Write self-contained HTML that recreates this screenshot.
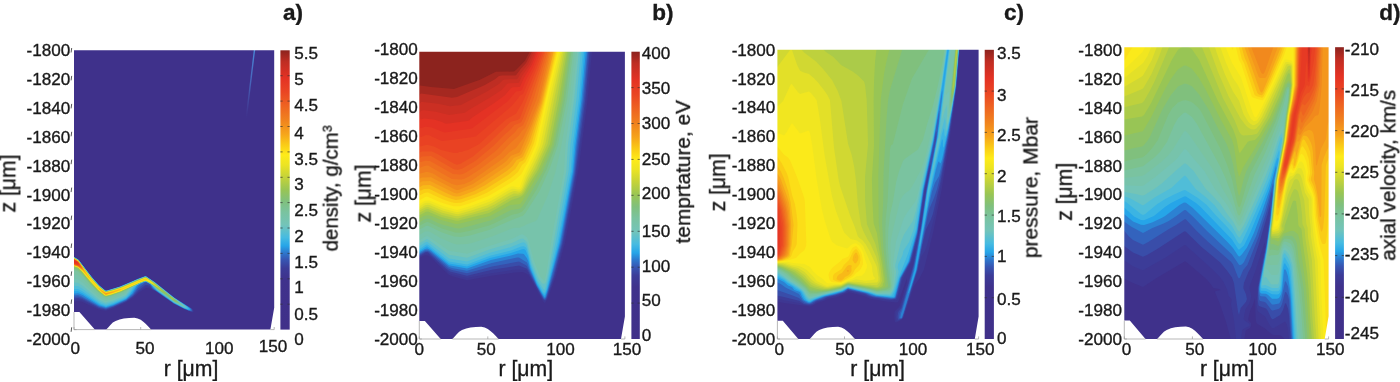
<!DOCTYPE html>
<html><head><meta charset="utf-8"><title>fig</title><style>html,body{margin:0;padding:0;background:#fff}svg{display:block}text{will-change:transform}</style></head><body>
<svg width="1400" height="382" viewBox="0 0 1400 382" font-family="Liberation Sans, sans-serif" fill="#1a1a1a" stroke="#1a1a1a" stroke-width="0.35">
<rect width="1400" height="382" fill="#fff" stroke="none"/>
<defs>
<linearGradient id="cbg" x1="0" y1="1" x2="0" y2="0"><stop offset="0.000" stop-color="#403089"/><stop offset="0.180" stop-color="#3f328c"/><stop offset="0.220" stop-color="#3c3c98"/><stop offset="0.250" stop-color="#3755b2"/><stop offset="0.275" stop-color="#2d78cd"/><stop offset="0.300" stop-color="#26a5e8"/><stop offset="0.330" stop-color="#46bbe1"/><stop offset="0.375" stop-color="#73c4b9"/><stop offset="0.420" stop-color="#7ac3a0"/><stop offset="0.460" stop-color="#80c07d"/><stop offset="0.500" stop-color="#98c555"/><stop offset="0.550" stop-color="#c8d437"/><stop offset="0.590" stop-color="#ece423"/><stop offset="0.625" stop-color="#feeb19"/><stop offset="0.660" stop-color="#facd16"/><stop offset="0.700" stop-color="#f6a51b"/><stop offset="0.750" stop-color="#f0821e"/><stop offset="0.800" stop-color="#ee6421"/><stop offset="0.850" stop-color="#ea4623"/><stop offset="0.900" stop-color="#e43224"/><stop offset="0.960" stop-color="#be2d23"/><stop offset="1.000" stop-color="#8c231e"/></linearGradient>
<clipPath id="cpa"><rect x="71" y="47" width="208" height="287"/></clipPath>
<clipPath id="cpb"><rect x="416" y="48" width="213" height="295"/></clipPath>
<clipPath id="cpc"><rect x="774" y="46" width="209" height="297"/></clipPath>
<clipPath id="cpd"><rect x="1121" y="44" width="212" height="299"/></clipPath></defs>
<g clip-path="url(#cpa)" stroke="none">
<rect x="72.0" y="48.3" width="204.2" height="283.3" fill="#3f318b"/>
<path fill="#3e3792" d="M72 256l2 0.6 4.6 2.9 13.4 17.5 7 7.9 6 5.1 1 0.3 1.6-0.3 10.1-3 21.3-8.9 6-2.2 1 0 8.4 5.6 19.6 15.6 18.2 11.4 1.3 1.5 0.3 2 -0.8 0.6 -1-0.3 -9.4-3.8 -8.6-4.5 -18-12.4 -3.9-1.6 -2.1-1.4 -4-0.7 -7 4.6 -6 5.4 -7 4.7 -13 5.9 -7 2.4 -7-1.2 -17-8 -4-0.8 -6 1.1z"/>
<path fill="#3c3c98" d="M72 256.5l0-0.4 2 0.7 4.5 2.7 12.5 16.5 8 9 6 5.1 1 0.4 2-0.5 10.1-3 20.9-8.8 5-1.9 2-0.2 8.2 5.4 19.8 15.8 17.1 10.7 1.9 2 0.1 2 -2.1-0.2 -6.8-2.8 -9.8-5 -18.4-12.7 -3.8-1.8 -2.2-2.1 -4-0.8 -7 4.7 -6 5.7 -7 4.9 -13 5.9 -7 2.4 -7-1.4 -17-8.4 -4-1 -6 0.9z"/>
<path fill="#394da9" d="M72 256.5l2 0.4 4.3 2.6 12.7 16.6 8 9.1 6 5 2 0.2 11.4-3.4 19.6-8.2 7-2.7 1 0.1 8.7 5.8 19.3 15.4 17 10.8 1.3 1.3 0.2 2 -1.5 0.1 -6.4-2.6 -10.6-5.4 -18-12.5 -3.6-2.1 -2.4-3.3 -3-0.8 -2 0.3 -6 4.6 -6 6.4 -7 5.1 -13 5.8 -7 2.4 -7-1.5 -17-9 -4-1.1 -6 0.8z"/>
<path fill="#3363bd" d="M72 256.5l2 0.5 4.2 2.5 13.8 17.9 7 7.9 6 5 2 0.2 13.2-4 17.8-7.6 7-2.7 1 0.1 8.5 5.7 19.5 15.6 17 10.9 0.8 1 0.1 1.5 -1.9 0 -5-2 -11-5.6 -20.8-14.4 -1.4-1.5 -1.8-3.3 -4-1.6 -1.1 0.4 -6.9 5.6 -5 6.6 -7 5.5 -13 5.8 -7 2.3 -7-1.7 -17-9.4 -4-1.3 -6 0.7z"/>
<path fill="#2c81d2" d="M72 256.5l2 0.6 4.1 2.4 13.9 18 7 7.9 6 5 2 0.2 12.1-3.6 18.9-8 7-2.6 1 0 8.4 5.6 19.6 15.7 15.2 9.8 1.7 1.5 0.3 1.5 -2.2-0.1 -4.8-1.9 -10.2-5.3 -19.5-13.7 -1.6-1.5 -2.7-4 -4.2-2.2 -1.4 0.2 -5.6 3.2 -6 8.8 -7 6 -12.3 5.5 -7.7 2.6 -7-1.8 -18-10.4 -3-1 -6 0.5z"/>
<path fill="#26a5e8" d="M72 257l0-0.5 2 0.7 4.5 2.8 13.5 17.6 7 7.9 6 5 1 0.4 1.9-0.4 12.9-4 17.2-7.4 7-2.6 1 0 8.2 5.5 19.8 15.8 14.1 9.2 1.7 1.5 0.3 1.5 -1.1 0.1 -5-1.9 -10-5.3 -17-11.9 -2.9-2.5 -3.1-4.1 -5-2.9 -1 0 -4.7 2 -3.2 2 -4.9 8 -6.2 5.8 -12.8 5.7 -7.2 2.3 -7-2 -16-10 -4-1.7 -1-0.3 -6 0.4z"/>
<path fill="#3bb4e3" d="M72 257l0-0.4 2 0.7 4.4 2.7 13.6 17.8 7 7.8 6 5 1 0.4 2-0.4 13-4 17-7.4 7-2.6 1 0 8 5.4 20 15.9 13 8.6 1.6 1.5 0.4 1 -1 0.5 -4-1.5 -10-5.3 -17-12.1 -6.9-7.1 -4.1-2.1 -1.3 0.1 -3.8 1.5 -4.5 2.5 -7.2 10 -3.2 3 -3 1.5 -10 4.2 -7 2.2 -6.2-1.9 -17.8-11.6 -4-1.7 -6 0.1z"/>
<path fill="#50bdd8" d="M72 257l0-0.3 2 0.6 4.3 2.7 13.7 17.9 7 7.9 6 5 2 0.1 13-3.9 18-7.7 7-2.6 1 0 8 5.4 20 15.9 12 8.1 1.5 1.4 0.2 1 -0.7 0.3 -3-1.1 -10-5.3 -17-12.1 -6-6.3 -5-2.7 -1.7 0.2 -3.7 1.5 -5.5 3 -1.6 1.5 -2.7 4.5 -3.3 4 -1.5 1.5 -3 1.6 -10 4.1 -7 2.2 -6-2 -18-12.5 -4-2 -6 0z"/>
<path fill="#64c1c6" d="M72 257l2 0.4 4.2 2.6 13.8 18 7 7.9 6 5 2 0.1 13-3.9 18-7.7 7-2.6 1 0 8 5.4 20 16 12 8.3 0.5 1 -0.5 0.6 -2-0.6 -10-5.4 -17-12.3 -2.9-3.3 -3.1-2.6 -5-2.7 -2 0.3 -3.8 1.5 -7 4 -6.9 9 -3.3 1.9 -10 4 -7 2.2 -4.5-1.6 -2.9-1.5 -15.6-12 -4-2.4 -1-0.5 -6-0.3z"/>
<path fill="#74c4b6" d="M72 257l2 0.5 4.1 2.5 13.8 18 7.1 8 6 5 2 0.1 13-3.9 18-7.7 7-2.6 1 0 8 5.4 14.4 11.7 15.7 11.5 0.9 1.5 -2-0.4 -8.8-4.6 -17.1-12.5 -6.1-5.7 -5-2.7 -1 0 -5 1.9 -8.1 4.5 -1.7 1.5 -3.8 5.5 -1.4 1 -12 5 -7 2.1 -1-0.1 -6-3.1 -16-13.3 -4-2.7 -1-0.6 -6-0.6z"/>
<path fill="#77c3ab" d="M72 257l2 0.6 4 2.4 13.8 18 7.2 8.1 6 5 2 0.1 13-3.9 18-7.7 7-2.6 1 0 8 5.4 13.6 11.1 13.5 10 1.8 1.5 0.1 1 -8.4-4 -16.9-12.5 -6.7-5.8 -5-2.7 -1 0 -5 1.9 -9.6 5.1 -1.6 1.5 -2.8 4 -3 1.5 -10 3.9 -7 2.1 -1-0.2 -6-3.4 -8-6.8 -8-7.6 -4-3 -1-0.7 -6-1z"/>
<path fill="#7ac3a0" d="M72 257.5l0-0.5 2 0.7 4 2.4 13.7 17.9 7.3 8.2 6 5 2 0.1 14-4.2 17-7.4 7-2.6 1 0 8 5.4 27.5 22 -0.5 0.3 -1-0.3 -5.1-2.5 -17.5-13 -4.4-4 -7-4 -1.2 0 -4.8 1.8 -10 5.1 -2.1 1.6 -1.9 2.3 -3 1.5 -10 3.8 -7 2 -1-0.2 -6.1-3.9 -7.9-7.3 -8-8.4 -4-3.4 -1-0.7 -6-1.4z"/>
<path fill="#7dc28e" d="M72 257.5l0-0.4 2 0.7 4 2.4 13.6 17.8 7.4 8.3 6 5 2 0.1 14-4.2 17-7.4 7-2.6 1 0 8 5.4 25.4 20.4 -0.4 0.4 -4-1.6 -17.3-12.8 -4.6-4 -7.1-4.1 -1.5 0.1 -5.1 2 -9.4 4.7 -4 2.7 -4 1.9 -9 3.3 -7 1.9 -1-0.2 -6.7-4.8 -8-8 -7.3-8.4 -5-4.7 -6-1.9z"/>
<path fill="#80c07d" d="M72 257.5l0-0.3 2 0.7 4 2.4 13.5 17.7 7.5 8.4 6 5 2 0.1 13-3.9 18-7.7 7-2.6 1 0 8 5.5 13.5 11.2 9.4 7 1.2 1.5 -2.1-0.4 -3-1.8 -5.7-4.8 -9.3-6.5 -4.7-4 -7.3-4.2 -1.7 0.2 -4.3 1.6 -18 9.1 -10 3.5 -6 1.7 -1-0.3 -7.3-5.6 -6.9-7 -7.8-9.2 -5-4.7 -6-1.9z"/>
<path fill="#8cc269" d="M72 257.5l2 0.5 4 2.4 13.8 18.1 7.2 8 6 5 2 0.1 13-3.9 18-7.7 7-2.6 1 0 8 5.5 22.9 18.6 -0.9 0.3 -3-1.7 -5.3-4.6 -9.7-6.7 -4.6-3.8 -7.4-4.2 -1.9 0.2 -4.1 1.6 -19 9.1 -10 3.4 -5 1.3 -1-0.2 -6.8-5.2 -7.7-8 -7.5-9 -5-4.9 -6-2z"/>
<path fill="#98c555" d="M72 257.5l2 0.5 4 2.4 13.7 18.1 7.1 8 6.2 5.1 1 0.3 6-1.4 10-3.3 23-9.7 2 0.6 7 4.9 12.7 11 -0.7 0.1 -4-2.6 -11-8.3 -5-2.5 -1 0 -5 1.8 -20 9.3 -9 3.1 -5 1.2 -1-0.2 -6.4-4.9 -8.1-8.5 -8.5-10.3 -4-3.8 -4-1.8 -2-0.4zM166.8 294.5l0.2-0.3zM168.6 295.5l3.4 1.9 3.5 3.6 -4.5-2.5z"/>
<path fill="#abcb49" d="M72 257.5l2 0.6 4 2.4 13.6 18 7.1 8 6.3 5.2 1 0.3 6-1.4 10-3.3 23-9.7 2 0.6 7 5 9.5 8.3 -1.5-0.3 -4-2.7 -2.8-2.5 -4.4-3 -4.8-2.4 -1 0 -5 1.8 -20 9.3 -9 3 -4 1.1 -2-0.1 -6.6-5.2 -8-8.5 -7.4-9.2 -5-4.9 -6-2.2zM163.8 292l0.2 0.4zM169.9 296.5l2.1 1.1 1.9 1.9 -0.9 0.2 -2-1.5zM173.9 300l0.1-0.3z"/>
<path fill="#bed13d" d="M72 258l0-0.5 2 0.7 4 2.4 13.5 17.9 7.1 8 6.4 5.3 1 0.3 6-1.4 10-3.3 23-9.7 2 0.6 7 5 7 6.1 0.1 0.6 -10.2-7 -4.9-2.4 -1-0.1 -5 1.8 -20 9.2 -9 3 -5 1.3 -1-0.3 -6.3-5 -8-8.5 -7.7-9.5 -5-4.9 -6-2.2zM171.3 298l0.7-0.1 0.3 0.6z"/>
<path fill="#d1d832" d="M72 258l0-0.4 2 0.7 4 2.4 12.5 16.8 5.2 6 3.8 4 5 4 1.5 0.7 7-1.7 9-3 23-9.7 1 0 4 2.7 7.9 6.5 -0.9 0.1 -7.7-5.1 -3.3-1.5 -1 0 -5 1.7 -20 9.1 -9 3.1 -5 1.2 -1-0.2 -6.5-5.4 -8-8.5 -9.5-11.4 -3-2.7 -6-2.1zM157.8 287.5l0.2-0.4 0 0.8z"/>
<path fill="#e3e028" d="M72 258l2 0.4 4 2.4 12.8 17.2 4.8 5.5 3.8 4 4.9 4 1.7 0.9 7-1.8 9-3 23-9.7 2 0.7 7.6 5.9 -0.6 0.2 -4.5-2.7 -3.5-1.6 -1 0 -5 1.7 -20 9.1 -9 3 -4 1.1 -2-0.1 -6.3-5.2 -7.9-8.5 -9.8-11.6 -3-2.7 -6-2.1zM154.8 285l0.4 0z"/>
<path fill="#f1e620" d="M72 258l2 0.5 4 2.4 12.7 17.1 3.8 4.5 5.3 5.5 5 4 1.2 0.5 7-1.7 9-3 23-9.8 2 0.7 6.2 4.8 -0.2 0.4 -6-3.2 -2-0.4 -5 1.7 -20 9.1 -9 3 -4 1.1 -2-0.1 -6.1-5.1 -7.9-8.5 -10-11.8 -3-2.7 -6-2z"/>
<path fill="#fbea1a" d="M72 258l2 0.6 4 2.4 12.5 17 3.9 4.5 5.2 5.5 5 4 1.4 0.6 7-1.7 9-3 23-9.7 2 0.7 4 3.3 -5-2 -2 0.2 -24 10.5 -9 3.1 -4 1 -2-0.1 -6-5 -8-8.6 -9.9-11.8 -3.1-2.6 -6-2z"/>
<path fill="#fcde18" d="M72 258l2 0.6 4 2.5 12.4 16.9 4.2 5 4.8 5 5 4 1.6 0.7 7-1.7 10-3.3 22-9.3 1 0 3.3 2.6 -3.3-0.9 -2 0.1 -10 4 -14 6.5 -9 3.1 -5.3 1.2 -6.7-5.3 -17.7-20.2 -3.3-2.7 -6-2z"/>
<path fill="#facd16" d="M72 258.5l0-0.5 2 0.7 4 2.5 12.5 17.3 3.8 4.5 4.2 4.5 5 4 2.5 1.3 7-1.6 9-2.8 23-9.8 1 0 1.5 1.4 -2.5-0.2 -6 2 -19 8.7 -14 4.4 -1-0.3 -6-5.2 -17.5-19.9 -3.5-2.9 -6-2z"/>
<path fill="#f8b918" d="M72 258.5l0-0.4 2 0.7 4 2.4 11.4 16.3 -0.4 0.4 -5.6-6.9 -5.4-4.5 -6-2zM89.4 278l0.6-0.2 0.2 1.2zM90.7 279.5l0.3-0.3 0 1zM91.6 280.5l0.5 0 -0.1 0.8zM97.9 287.5l0.1 0.3zM98.7 288.5l0.3-0.4 5.6 4.4 1.4 0.5 15-3.9 0.1 0.4 -7.3 3 -7.8 2.2 -1-0.3 -3-2.5zM121.6 289l0.4 0z"/>
<path fill="#f6a51b" d="M72 258.5l2 0.4 4 2.4 4 5.3 3.5 5.9 -0.5 0.1 -2.3-2.6 -4.7-3.6 -6-2zM85.6 273l0.4-0.4 0 1.2zM86.9 274l0.1 1zM88 275.5l0 0.6zM100.9 290l0.1 0.5zM101.7 291l0.3-0.2 4 2.4 6-1.3 1.9 0.1 -7.9 2.5 -1-0.4zM113.9 291.5l0.6 0 -0.5 0.3z"/>
<path fill="#f4971c" d="M72 258.5l2 0.5 4 2.4 5 7.1 0.3 1 -0.3 0.5 -5-3.8 -6-1.9zM83.8 270.5l0.2-0.5 0 0.9zM104.9 293.5l3.3 0 -2.2 0.7z"/>
<path fill="#f1891d" d="M72 258.5l2 0.6 4 2.4 4 5.5 0.5 1.5 -0.5 0.5 -4-2.9 -6-1.9z"/>
<path fill="#f07c1f" d="M72 258.5l2 0.7 4 2.4 4 5.8 0 1.1 -4-2.5 -6-2z"/>
<path fill="#ef7020" d="M72 259l0-0.4 2 0.7 4 2.5 3 4.2 0.4 1.5 -0.4 0.2 -3-1.9 -3-1.2 -3-0.7z"/>
<path fill="#ee6421" d="M72 259l0-0.3 2 0.7 4 2.5 2 2.7 1 2.4 -7-3 -2-0.3z"/>
<path fill="#ec5822" d="M72 259l2 0.5 4 2.5 2 2.9 0 1.5 -6-2.6 -2-0.3z"/>
<path fill="#eb4c23" d="M72 259l2 0.6 4 2.6 1.6 3.3 -7.6-2.3z"/>
<path fill="#e94223" d="M72 259.5l0-0.5 1.4 0.5 3.6 2.1 2 2.4 0.1 1 -7.1-2z"/>
<path fill="#e63a24" d="M72 259.5l2 0.4 3 1.9 1 0.9 0.4 1.3 -0.4 0.4 -6-1.8z"/>
<path fill="#e43224" d="M72 259.5l4 1.9 2 2.1 -6-1.3z"/>
<path fill="#d73024" d="M72 260l0.9 0 2 1.5 -2.9 0.2z"/><defs><linearGradient id="alg" gradientUnits="userSpaceOnUse" x1="0" y1="50" x2="0" y2="118"><stop offset="0" stop-color="#4a8ad8" stop-opacity="1"/><stop offset="0.5" stop-color="#4a78cc" stop-opacity="0.7"/><stop offset="1" stop-color="#4a60b8" stop-opacity="0"/></linearGradient></defs><path d="M254.6 49L246.3 118" stroke="url(#alg)" stroke-width="1.4" fill="none"/>
</g>
<path d="M70 46H279V334H70ZM74.0 50.3 L274.2 50.3 L274.2 307.8 L270.4 329.6 L151.1 329.6 L148.5 326.8 L145.9 324.0 L143.3 321.8 L140.7 319.8 L137.7 318.4 L134.4 317.8 L129.1 317.9 L123.8 318.4 L119.6 319.4 L115.6 320.9 L112.8 322.6 L110.4 325.0 L108.2 327.4 L106.2 329.6 L94.8 329.6 L79.4 312.0 L74.0 312.0Z" fill="#fff" fill-rule="evenodd" stroke="none"/>
<path d="M74.0 312.0V329.6H94.8M106.2 329.6H151.1M270.4 329.6H274.2M74.0 329.6v-2.6M140.7 329.6v-2.6M274.2 329.6v-2.6M74.0 329.6h2.6" fill="none" stroke="#9a9a9a" stroke-width="0.7"/>
<rect x="280.4" y="50.3" width="9.3" height="279.3" fill="url(#cbg)" stroke="none"/>
<path d="M280.4 304.2h2.2M289.7 304.2h-2.2" stroke="#333" stroke-width="0.7" fill="none"/>
<path d="M280.4 278.8h2.2M289.7 278.8h-2.2" stroke="#333" stroke-width="0.7" fill="none"/>
<path d="M280.4 253.4h2.2M289.7 253.4h-2.2" stroke="#333" stroke-width="0.7" fill="none"/>
<path d="M280.4 228.0h2.2M289.7 228.0h-2.2" stroke="#333" stroke-width="0.7" fill="none"/>
<path d="M280.4 202.6h2.2M289.7 202.6h-2.2" stroke="#333" stroke-width="0.7" fill="none"/>
<path d="M280.4 177.3h2.2M289.7 177.3h-2.2" stroke="#333" stroke-width="0.7" fill="none"/>
<path d="M280.4 151.9h2.2M289.7 151.9h-2.2" stroke="#333" stroke-width="0.7" fill="none"/>
<path d="M280.4 126.5h2.2M289.7 126.5h-2.2" stroke="#333" stroke-width="0.7" fill="none"/>
<path d="M280.4 101.1h2.2M289.7 101.1h-2.2" stroke="#333" stroke-width="0.7" fill="none"/>
<path d="M280.4 75.7h2.2M289.7 75.7h-2.2" stroke="#333" stroke-width="0.7" fill="none"/>
<text x="70.3" y="56.2" font-size="17.1" text-anchor="end" >-1800</text>
<text x="70.3" y="85.1" font-size="17.1" text-anchor="end" >-1820</text>
<text x="70.3" y="113.9" font-size="17.1" text-anchor="end" >-1840</text>
<text x="70.3" y="142.8" font-size="17.1" text-anchor="end" >-1860</text>
<text x="70.3" y="171.7" font-size="17.1" text-anchor="end" >-1880</text>
<text x="70.3" y="200.5" font-size="17.1" text-anchor="end" >-1900</text>
<text x="70.3" y="229.4" font-size="17.1" text-anchor="end" >-1920</text>
<text x="70.3" y="258.3" font-size="17.1" text-anchor="end" >-1940</text>
<text x="70.3" y="287.2" font-size="17.1" text-anchor="end" >-1960</text>
<text x="70.3" y="316.0" font-size="17.1" text-anchor="end" >-1980</text>
<text x="70.3" y="344.9" font-size="17.1" text-anchor="end" >-2000</text>
<path d="M71.1 52.5l0.6 -4.5" stroke="#444" stroke-width="0.9" fill="none"/>
<path d="M71.1 80.4l0.6 -4.5" stroke="#444" stroke-width="0.9" fill="none"/>
<path d="M71.1 108.4l0.6 -4.5" stroke="#444" stroke-width="0.9" fill="none"/>
<path d="M71.1 136.3l0.6 -4.5" stroke="#444" stroke-width="0.9" fill="none"/>
<path d="M71.1 164.2l0.6 -4.5" stroke="#444" stroke-width="0.9" fill="none"/>
<path d="M71.1 192.1l0.6 -4.5" stroke="#444" stroke-width="0.9" fill="none"/>
<path d="M71.1 220.1l0.6 -4.5" stroke="#444" stroke-width="0.9" fill="none"/>
<path d="M71.1 248.0l0.6 -4.5" stroke="#444" stroke-width="0.9" fill="none"/>
<path d="M71.1 275.9l0.6 -4.5" stroke="#444" stroke-width="0.9" fill="none"/>
<path d="M71.1 303.9l0.6 -4.5" stroke="#444" stroke-width="0.9" fill="none"/>
<path d="M71.1 331.8l0.6 -4.5" stroke="#444" stroke-width="0.9" fill="none"/>
<text x="75.3" y="353.8" font-size="17.1" text-anchor="middle" >0</text>
<text x="144.9" y="354.1" font-size="17.1" text-anchor="middle" >50</text>
<text x="219.3" y="354.1" font-size="17.1" text-anchor="middle" >100</text>
<text x="272.9" y="352.0" font-size="17.1" text-anchor="middle" >150</text>
<text x="294.3" y="344.7" font-size="17.1" text-anchor="start" >0</text>
<text x="294.3" y="319.7" font-size="17.1" text-anchor="start" >0.5</text>
<text x="294.3" y="292.7" font-size="17.1" text-anchor="start" >1</text>
<text x="294.3" y="268.2" font-size="17.1" text-anchor="start" >1.5</text>
<text x="294.3" y="241.7" font-size="17.1" text-anchor="start" >2</text>
<text x="294.3" y="216.2" font-size="17.1" text-anchor="start" >2.5</text>
<text x="294.3" y="189.7" font-size="17.1" text-anchor="start" >3</text>
<text x="294.3" y="164.7" font-size="17.1" text-anchor="start" >3.5</text>
<text x="294.3" y="138.7" font-size="17.1" text-anchor="start" >4</text>
<text x="294.3" y="111.2" font-size="17.1" text-anchor="start" >4.5</text>
<text x="294.3" y="85.2" font-size="17.1" text-anchor="start" >5</text>
<text x="294.3" y="58.7" font-size="17.1" text-anchor="start" >5.5</text>
<g clip-path="url(#cpb)" stroke="none">
<rect x="417.3" y="49.7" width="209.6" height="291.3" fill="#3f318b"/>
<path fill="#3e3792" d="M417 49l175.8 0 -0.9 3 -4.3 48 -9 69 -8.2 45 -5.5 29 -8.6 32 -8.7 24 -2.6 4.1 -1-0.5 -1.8-2.6 -13.2-24.2 -2-1.9 -3-1.5 -2-0.4 -7 0.6 -22 2.9 -26 4.7 -14-3.8 -4-1.5 -19-18.1 -2-1.3 -2-0.3 -2 0.4 -4.5 2.4 -2.5 2.1z"/>
<path fill="#3c3c98" d="M417 49l173.1 0 0.5 1 -4.2 50 -9.1 70 -2.8 16 -10.9 58 -8.6 32 -7.7 22 -1.3 2.4 -1 0.6 -1-0.2 -1.6-1.8 -12.4-23.3 -3-4.7 -1-0.8 -8-0.8 -6 0.7 -22 3.3 -23 4.7 -15.9-4.1 -2.1-1 -21-19.3 -2-0.3 -6 3.1 -3 0.3z"/>
<path fill="#394da9" d="M417 49l172.1 0 0.4 3 -4.3 48 -9.8 75 -12.9 69 -8.5 32 -7.3 22 -0.7 1.4 -1 0.7 -1-0.3 -1.4-1.8 -15.6-29.3 -8-3.2 -26 4 -26 6.2 -17-4.3 -4-2.8 -18-16.3 -2-0.2 -6 3.3 -3 0.5z"/>
<path fill="#3363bd" d="M417 49l171.4 0 -4.5 51 -6 45 -3.1 28 -13 70 -8.5 32 -6.8 22 -1.5 2.2 -1-0.3 -1-1.4 -6-10.6 -10-20.6 -1.4-1.3 -6.6-3.5 -27 4.9 -25 6.8 -15-3.1 -4-1.8 -18-15.8 -2-1.3 -3 0.2 -6 3.6 -2 0.3z"/>
<path fill="#2c81d2" d="M417 49l170.6 0 -4.9 51 -6 45 -2.7 27 -13.2 71 -11.6 43 -3.2 10.8 -1 1.5 -1-0.4 -1-1.5 -6-10.5 -7.6-16.9 -2.4-6.6 -8-4.9 -2 0.1 -25.2 5.4 -24.8 7.8 -14-2.6 -4-1.2 -19-15.8 -2-1 -3 0.1 -6 3.7 -2 0.6z"/>
<path fill="#26a5e8" d="M417 49l169.1 0 -4.6 51 -6 45 -2.5 26.7 -13.2 71.3 -12.6 48 -2.2 6.1 -1-0.5 -2-3 -5-8.9 -6.7-15.7 -2.1-8 -1.2-2.7 -3-4 -1-0.6 -5-0.2 -7 2 -20 4.5 -24 8.5 -18-3.2 -18-14.7 -3-1.8 -1-0.3 -2 0.5 -6 3.6 -2 0.6z"/>
<path fill="#3bb4e3" d="M417 49l167.6 0 -4.4 51 -5.9 44 -2.3 27.4 -13.1 70.6 -11.9 47.3 -2 5.4 -1 0 -2-2.4 -5-9.1 -6.2-15.2 -2.8-12 -2.5-6 -1.5-0.9 -2 0.1 -11 3.8 -21 5.1 -23 8.5 -18-3.1 -19-15.3 -3-1.9 -2 0.9 -5.7 3.8 -2.3 0.5z"/>
<path fill="#50bdd8" d="M417 49l166 0 -4.2 50 -6.1 46 -2 26 -13.1 71 -11.5 48 -1.1 2.4 -1 0.3 -1-0.8 -6-10.6 -6.3-16.3 -1.9-9 -2-7 -0.8-1.4 -2-1.4 -3 0.4 -10 4 -21 5.2 -23 8.7 -18-3 -20-16.1 -2-1.1 -2 0.9 -5 3.5 -3 0.7z"/>
<path fill="#64c1c6" d="M417 49l164.1 0 -4.7 50 -6 46 -1.8 26 -13.1 71 -8.4 40 -2.1 7.4 -1 0.4 -1-1.2 -5-7.7 -6.6-16.9 -4.1-17 -1.3-3.1 -2-1.6 -2 0.1 -11 4.7 -21 5.6 -23 8.8 -18-3.1 -20-15.5 -2-1.1 -2 0.8 -6 3.9 -2 0.6z"/>
<path fill="#74c4b6" d="M417 49l162.1 0 -5 50 -6.2 46 -1.6 26 -17.2 96 -2.8 14 -1.3 2.4 -2 0.3 -1-0.5 -3.6-5.2 -6.4-16.6 -4.6-18.4 -1.4-2 -3-2.5 -2 0.3 -9.2 4.2 -21.8 6.3 -23 8.5 -18-3 -20-14.8 -2-0.9 -7 3.8 -3 0.2z"/>
<path fill="#77c3ab" d="M417 49l160.4 0 -5.4 50.4 -6.4 44.6 -1.5 27 -12.6 69 -4.5 29.3 -2 10.2 -1 1.5 -4-4.8 -5-12.7 -2-5.7 -4.4-16.8 -2-4 -3.6-2.5 -2 0.1 -9.4 4.4 -21.6 6.8 -23 7.9 -18-3 -20-13.8 -2-0.8 -2 0.7 -6.7 4.2 -1.3 0.3z"/>
<path fill="#7ac3a0" d="M417 49l158.2 0 -6 52 -7.9 45 -4.9 22 -1.2 5 -7.2 22 -10.6 24 -1.6 2 -8.8 3.3 -3 1.8 -2 0.3 -2 1.4 -6-0.1 -22 8.8 -20 6.4 -5 1.1 -10 0.5 -4-0.9 -13-5.9 -9.7-5.7 -2.3-0.7 -3 0.3 -5.7 3.4 -2.3 0.2z"/>
<path fill="#7dc28e" d="M417 49l155.8 0 0.3 3 -6.1 48 -9.3 46 -8.2 23 -9.9 22 -14.1 22 -2.5 2.7 -10 3.8 -24 10.5 -19 5.6 -9 1.5 -7-0.5 -12-4 -14-6.8 -2 0.1 -6 3.4 -1-0.3 -1-2.4 -1-0.8z"/>
<path fill="#80c07d" d="M417 49l154.8 0 -6.8 51 -9.1 45 -9.1 24 -9.9 20 -11.8 19 -3.1 3.8 -4 1.7 -6 1.3 -17 8.3 -6 2.3 -20 5.7 -9 1.7 -5-0.3 -13-4 -14-6.4 -2 0.1 -6 3.3 -3-0.7z"/>
<path fill="#8cc269" d="M417 49l154 0 -1 3 -7 48 -9.1 45 -11.2 27 -18 31 -3.7 4.9 -3 1.1 -7 1 -20 10.2 -23 6.4 -9 1.8 -4-0.3 -12-3.4 -5-1.8 -8-3.8 -2-0.5 -2 0.1 -2 0.8 -3 1.9 -2 2.1 -2 0.7z"/>
<path fill="#98c555" d="M417 49l152.8 0 -1.2 2 -7.6 49 -9.1 45 -11.6 26 -18.3 30.5 -2 2.4 -10 1.2 -20 11 -31 7.7 -3 0.1 -15-3.8 -10-4.3 -3-0.6 -4 0.6 -4 2.5 -1.3 1.7 -0.7 2.3 -1 0.9z"/>
<path fill="#abcb49" d="M417 49l148.8 0 1 1 0.1 2 -7.9 47.2 -9 44.8 -11.7 26 -8.3 13.3 -6 10.6 -2 2.1 -3 1.5 -7.4 2.5 -22.6 12.9 -31 7.8 -3-0.2 -14-3.4 -13-5.6 -2 0.2 -5 2.9 -2 0.4 -2-4z"/>
<path fill="#bed13d" d="M417 49l147.4 0 0.9 2 -0.2 2 -8.5 47 -9 44 -11.1 25 -6.5 10.7 -5.9 11.3 -2.1 2.9 -3 1.6 -4 0.4 -4 1.6 -16 9.4 -7 3.6 -30 8 -3-0.2 -13.2-3.3 -13.8-5.9 -2 0.2 -6 3.3 -1.4-1.6 -1.6-0.7z"/>
<path fill="#d1d832" d="M417 49l146.7 0 0 3 -18.2 91 -2.1 6 -8.7 19 -6.3 11 -4.7 10 -2.7 3.7 -3 1 -4-0.1 -3 1.1 -17 10 -7 3.4 -14 4.3 -15 3.9 -3-0.2 -13-3.4 -14-5.8 -3 0.6 -5 2.8 -3-0.6z"/>
<path fill="#e3e028" d="M417 49l146.2 0 -1.3 4 -7.3 34 -11.4 56 -1.3 4 -4.8 11 -4.3 9 -5.9 11 -4.1 10 -1.8 2.7 -2 1 -4-0.6 -2 0.1 -4 1.8 -16 9.6 -6 2.8 -15 4.9 -14 3.9 -2-0.1 -13-3.4 -13-5.5 -2-0.4 -3 0.4 -5.8 3.8 -2.2 0.3z"/>
<path fill="#f1e620" d="M417 49l145.5 0 -1.6 2 -0.6 2 -8.5 37 -11.5 55 -5 12 -9.9 20 -3.6 10 -1.8 2.3 -2 0.3 -4-0.9 -2 0.1 -4 2 -16 9.6 -4 1.8 -16 5.7 -14 4.1 -2 0 -13-3.6 -14-5.7 -3 0.1 -2 0.6 -4 2.6 -1.3 2 -1.7 0.7z"/>
<path fill="#fbea1a" d="M417 49l144 0 -1 0.6 -0.8 1.4 -9.2 37.7 -12 56.3 -4.6 11 -9.7 20 -3.8 11 -1.9 0.4 -5-1.2 -2 0.2 -21 12.3 -19.5 7.3 -12.5 3.7 -2 0 -13-3.7 -14-5.5 -4 0.2 -4 2.2 -2 1.4 -2 3.7z"/>
<path fill="#fcde18" d="M417 49l139.8 0 0.9 1 -0.1 2 -9.6 38.6 -12.3 54.4 -7.7 17.3 -3 4.7 -3 6.1 -1.5 1.9 -6.8 6 -24.7 14.8 -19 7.4 -10 3.1 -6 0 -4.8-1.3 -8.2-2.6 -14-6 -1.9 0.6 -5.1 2.9 -1-0.4 -0.8-2.5 -1.2-7.9z"/>
<path fill="#facd16" d="M417 49l138.6 0 0.9 2 -12.3 52 -10.2 40 -4.6 11 -4 8 -3.4 2.9 -4 7 -7.1 6.1 -23.9 14.7 -10 4.4 -16 5.6 -6 0.4 -4.5-1.1 -8.5-3 -14-6.5 -3 0.2 -5 2.5 -1-2.1 -0.7-4.1 -1.3-0.6z"/>
<path fill="#f8b918" d="M417 49l137.9 0 0.3 3 -12.2 51.3 -11.4 39.7 -7.2 16 -1.4 1.4 -3.3 1.6 -4.5 7 -7.1 6 -23.1 14.5 -9 4.4 -15 5.4 -5 0.6 -4.2-0.9 -8-3 -14.8-7.3 -5 0.3 -3 1.5 -1 0 -0.6-1.5 -1.1-1 -1.3-0.2z"/>
<path fill="#f6a51b" d="M417 49l137.4 0 -12.4 53.9 -12.5 39.1 -6.5 14.5 -1 1.1 -5.3 2.4 -4.1 6 -5.6 4.8 -22 14.4 -10.8 5.8 -14.2 5.2 -4 0.4 -3-0.7 -8-3.3 -15-7.6 -7 0.2 -3 1.8 -3 0.4z"/>
<path fill="#f4971c" d="M417 49l136.9 0 -12.8 53 -13.7 39 -5.8 13 -1.6 1.4 -6 2.3 -5 6.2 -4 3.4 -23 15.4 -9 5.2 -14 5.2 -2 0.3 -3-0.6 -24-11.8 -7 0.3 -2 0.5 -1 1 -1 3.2 -2 1z"/>
<path fill="#f1891d" d="M417 49l136.2 0 -1.5 3 -11.7 49.8 -8.9 24.2 -11.1 25.8 -1.7 1.2 -7.3 2.7 -4.6 5.3 -3.8 3 -29.6 20 -14 5.7 -2 0.4 -2-0.5 -24-12.4 -9 0.4 -2 0.6 -1 1.9 -1 5.6 -1 0.6z"/>
<path fill="#f07c1f" d="M417 49l133.8 0 -11.8 51.2 -9 23.2 -7 15.2 -7 9.4 -7 4.5 -6 6 -31.9 22.5 -6.8 3 -7.3 1.3 -5-1.3 -11.7-6 -7.3-4.4 -5-1.5 -2-0.1 -6 1.6 -3 0.3z"/>
<path fill="#ef7020" d="M417 49l130.8 0 1.2 1.9 -12.3 48.1 -11.7 29.1 -3 2.7 -3 4.7 -8 7 -11 11.8 -21 15.6 -11 7.2 -4 1.8 -3 0.6 -9-0.6 -24-13.4 -3 0.2 -5 2 -1-1.7 -0.7-4 -1.3-0.7z"/>
<path fill="#ee6421" d="M417 49l129.9 0 0.4 3 -13.4 46 -8.4 22 -2.3 5 -1.2 1.1 -3.9 1.9 -3.1 4.2 -7 6.2 -12 12.3 -18.2 14.3 -11.8 7.4 -3.3 1.6 -2.7 0.6 -7-0.6 -23-13.1 -5-0.1 -4 1.3 -1-0.1 -1-1.4 -2 0z"/>
<path fill="#ec5822" d="M417 49l129.2 0 -6.3 22 -9 27 -7.6 20 -2 4 -1.3 0.9 -5.6 2.1 -3.4 4 -6 5.3 -11.7 11.7 -17.3 14.4 -14 8.4 -4 0.9 -3-0.2 -2-0.8 -22-12.6 -9 0.3 -1 0.5 -1.9 2.1 -2.1 1z"/>
<path fill="#eb4c23" d="M417 49l128.4 0 -1.4 3 -6.2 19 -17.8 47.2 -2 1.5 -6 1.7 -2 1.2 -20 19.3 -17 14.7 -13 7.5 -3 0.7 -3-1 -17-10 -5-2.4 -10 0.2 -1.6 0.4 -1.2 2 -0.9 4 -1.3 1.2z"/>
<path fill="#e94223" d="M417 49l125.9 0 -0.6 3 -5.9 17 -11.4 28 -3 6.4 -6 10.3 -10 5.8 -27 24.8 -11 5.6 -5 1.3 -1 0.7 -3 0.1 -1 1 -4 0 -13-3 -7-3.5 -6-1.5 -2 0 -6 1.5 -3 0.3z"/>
<path fill="#e63a24" d="M417 49l121.3 0 2.1 1 0.4 1 -6.1 17 -6.2 13 -4.9 12 -0.6 1.1 -3 1.5 -2 3 -6.3 7.4 -35.7 30.2 -2.8 0.8 -30.2 4.1 -2-0.3 -12-5.6 -3-0.2 -5 2.1 -1 0 -0.8-2.1 -0.7-6 -0.6-13 -0.9-1.2z"/>
<path fill="#e43224" d="M417 49l120.4 0 1.5 2 -5.9 16 -7 13 -4 9.7 -1 1 -5 0.7 -8 9.6 -36 27.5 -27 3.9 -2-0.3 -12-4.8 -6-0.6 -4 1.6 -1-0.6 -1.5-12.7 -1.5-0.8z"/>
<path fill="#d73024" d="M417 49l119.8 0 0.5 2 -5.5 14 -7.8 12.9 -4 8.8 -1 0.4 -6 0.1 -1.9 0.8 -6.1 7.3 -11 8 -21 13.8 -4 3.3 -2 0.6 -20 2.7 -2-0.3 -3-1.3 -8-2.5 -10-1.2 -3 1 -1-1.1 -0.5-3.3 -0.9-1 -1.6-0.3z"/>
<path fill="#cb2f23" d="M417 49l119.3 0 -0.3 1.7 -6 13.7 -8 11.6 -2.7 6 -0.9 1 -9.4 0.3 -2 0.6 -5.4 6.1 -10.6 7.1 -22.3 12.9 -3.7 2.7 -16 2.3 -13-3.3 -12-1.5 -3 0.6 -1.4 2.2 -2.6 0.4z"/>
<path fill="#be2d23" d="M417 49l118.8 0 -2.2 3 -5.6 11.9 -7.9 10.1 -2.1 4.1 -1 1.1 -12 0.2 -2 0.5 -4 4.2 -12 7.4 -26 13.4 -11 1.4 -12-2.5 -15-1.9 -2 0.2 -1 1.4 -1.2 8.5 -1.8 1z"/>
<path fill="#a52820" d="M417 49l118.1 0 -2.8 2 -6.2 12 -5.4 6 -4.7 6.2 -1 0.4 -13-0.1 -3 0.4 -4 3.3 -11 6.2 -27 11.7 -5 0.6 -31-4.1 -1 0.7 -0.7 2.7 -1.1 14 -0.3 1 -0.9 0.4z"/>
<path fill="#8c231e" d="M417 49l114.8 0 -1.1 1 -5.7 10.7 -9 9.4 -2 1.5 -18 0.1 -16 8.1 -26 9.2 -23-1.9 -11-1.7 -1.4 1.6 -0.8 5 -0.8 19.1z"/>
</g>
<path d="M415 47H629V344H415ZM419.3 51.7 L624.9 51.7 L624.9 316.6 L621.0 339.0 L498.5 339.0 L495.8 336.1 L493.1 333.3 L490.4 331.0 L487.8 328.9 L484.7 327.5 L481.3 326.8 L475.8 326.9 L470.5 327.5 L466.2 328.5 L462.0 330.0 L459.2 331.8 L456.7 334.3 L454.5 336.7 L452.4 339.0 L440.7 339.0 L424.9 320.9 L419.3 320.9Z" fill="#fff" fill-rule="evenodd" stroke="none"/>
<path d="M419.3 320.9V339.0H440.7M452.4 339.0H498.5M621.0 339.0H624.9M419.3 339.0v-2.6M487.8 339.0v-2.6M624.9 339.0v-2.6M419.3 339.0h2.6" fill="none" stroke="#9a9a9a" stroke-width="0.7"/>
<rect x="631.4" y="51.7" width="8.4" height="287.3" fill="url(#cbg)" stroke="none"/>
<path d="M631.4 303.1h2.2M639.8 303.1h-2.2" stroke="#333" stroke-width="0.7" fill="none"/>
<path d="M631.4 267.2h2.2M639.8 267.2h-2.2" stroke="#333" stroke-width="0.7" fill="none"/>
<path d="M631.4 231.3h2.2M639.8 231.3h-2.2" stroke="#333" stroke-width="0.7" fill="none"/>
<path d="M631.4 195.3h2.2M639.8 195.3h-2.2" stroke="#333" stroke-width="0.7" fill="none"/>
<path d="M631.4 159.4h2.2M639.8 159.4h-2.2" stroke="#333" stroke-width="0.7" fill="none"/>
<path d="M631.4 123.5h2.2M639.8 123.5h-2.2" stroke="#333" stroke-width="0.7" fill="none"/>
<path d="M631.4 87.6h2.2M639.8 87.6h-2.2" stroke="#333" stroke-width="0.7" fill="none"/>
<text x="417.9" y="55.4" font-size="17.1" text-anchor="end" >-1800</text>
<text x="417.9" y="84.3" font-size="17.1" text-anchor="end" >-1820</text>
<text x="417.9" y="113.3" font-size="17.1" text-anchor="end" >-1840</text>
<text x="417.9" y="142.2" font-size="17.1" text-anchor="end" >-1860</text>
<text x="417.9" y="171.1" font-size="17.1" text-anchor="end" >-1880</text>
<text x="417.9" y="200.1" font-size="17.1" text-anchor="end" >-1900</text>
<text x="417.9" y="229.0" font-size="17.1" text-anchor="end" >-1920</text>
<text x="417.9" y="257.9" font-size="17.1" text-anchor="end" >-1940</text>
<text x="417.9" y="286.8" font-size="17.1" text-anchor="end" >-1960</text>
<text x="417.9" y="315.8" font-size="17.1" text-anchor="end" >-1980</text>
<text x="417.9" y="344.7" font-size="17.1" text-anchor="end" >-2000</text>
<text x="419.3" y="355.0" font-size="17.1" text-anchor="middle" >0</text>
<text x="486.2" y="355.0" font-size="17.1" text-anchor="middle" >50</text>
<text x="560.6" y="355.0" font-size="17.1" text-anchor="middle" >100</text>
<text x="627.0" y="355.0" font-size="17.1" text-anchor="middle" >150</text>
<text x="641.8" y="341.2" font-size="17.1" text-anchor="start" >0</text>
<text x="641.8" y="306.2" font-size="17.1" text-anchor="start" >50</text>
<text x="641.8" y="272.2" font-size="17.1" text-anchor="start" >100</text>
<text x="641.8" y="236.5" font-size="17.1" text-anchor="start" >150</text>
<text x="641.8" y="199.2" font-size="17.1" text-anchor="start" >200</text>
<text x="641.8" y="164.7" font-size="17.1" text-anchor="start" >250</text>
<text x="641.8" y="129.0" font-size="17.1" text-anchor="start" >300</text>
<text x="641.8" y="94.2" font-size="17.1" text-anchor="start" >350</text>
<text x="641.8" y="58.8" font-size="17.1" text-anchor="start" >400</text>
<g clip-path="url(#cpc)" stroke="none">
<rect x="775.4" y="47.8" width="205.2" height="293.2" fill="#3f318b"/>
<path fill="#3e3792" d="M775 47l185 0 -3.1 39 -7.2 54 -7.9 49 -8.8 44.3 -9.2 36.7 -4.8 9.3 -5 6.6 -10.6 32.1 -1.4 1.5 -5 2.7 -1 0.4 -1.1-0.6 -0.6-5 0.2-5 0.5-1 4-4 1-1.9 7-23.1 0-3.8 -8 21.8 -1 2.1 -1 0.3 -9-0.6 -18-3.1 -6-2.6 -15-3.9 -13 5.3 -8 1.6 -3 1.5 -7.6 2.4 -2.4 1.6 -5 1.9 -25.6-3.5 -9.4-2z"/>
<path fill="#3c3c98" d="M775 47l184.8 0 -3 38 -6.5 46 -8.1 48 -7.6 37 -7.6 29.7 -2 5.4 -4 6 -3.5 14.9 -14.1 45 -1.4 2.1 -4 1.9 -1.5 0 -0.3-1 -0.3-3 0.5-5 4.1-5 6.5-21 6-21.8 2.1-11.2 -0.1-4.4 -3.5 13.4 -8.5 17 -5.2 19 -0.8 1.7 -1 0.5 -6 0.4 -18-2.6 -4-1.3 -3-1.8 -5-0.9 -11-3.2 -1 0.1 -2 1.7 -8 2.9 -11 2.6 -3.1 1.9 -6.9 1.9 -3 2.3 -4 1.2 -6-0.6 -5-1.9 -14-2.4 -10-2.3zM916 245.2l0 2.8zM920 222.7l-1 7.9 1-1.4zM921 216.6l-0.3 4.4 0.3 1.1zM922 210.6l0 4.3zM923 205.1l0 2.1z"/>
<path fill="#394da9" d="M775 47l184.5 0 -2.9 37 -1.1 8 -6.7 45 -8.2 44 -7.6 32.4 -2 5.9 -5 10.2 -4 17 -4.5 23.5 -14.2 46 -0.7 2 -1.3 1 -3.3 0.8 -0.5-2.8 0.5-4 0.3-1 3-4 6.7-22.4 6-22.2 5.3-30.4 1.7-7 5.4-38 3.6-18.6 0.3-4.4 -0.3-0.8 -6 28 -6.3 42.8 -7.2 27 -8.5 15.4 -4.5 17.6 -1.5 3.7 -5 1.1 -17-2.4 -5-1.3 -4-2.1 -17-4.1 -3 2.4 -9 2.9 -9 2 -5 2.5 -5.1 1.3 -4.6 3 -3.3 0.7 -5-0.8 -5-3.2 -16-4 -8-1.5zM931 159.9l0 3.8zM932 156.6l0 0.6z"/>
<path fill="#3363bd" d="M775 47l184.3 0 -2.9 36 -1 8 -6.1 40 -7.3 38 -5 20.2 -3 8.7 -4 9.4 -2 6.9 -11 55.8 -15 48.3 -2 0.5 -1-0.8 0.2-2 0.6-3 2.2-4.4 12-42.5 7-38.1 5.5-38 9.5-50.1 0.6-7.9 -0.6-0.5 -1.4 8.5 -10.7 50 -6.6 44 -7.1 27 -9.2 17 -5.4 20 -1.6 0.7 -3 0.2 -17-2.2 -3-0.7 -6-2.7 -17-4.1 -3.9 2.8 -8.1 2.6 -10 2.2 -5 2.3 -5 1.5 -5 3 -2 0.4 -4.1-1 -2.9-1.9 -3-3 -7-2.9 -17-5.9zM937 127.1l0 4.1z"/>
<path fill="#2c81d2" d="M775 47l184.1 0 -3.6 42 -6 38 -6.5 33 -4 15.9 -4 6.8 -3 8.9 -4 18.1 -11.4 60.3 -13.6 44.6 -1.4 3.4 -1.3 0 0.6-4 1.5-4 10.8-38 2-9 6-34 5.7-39 10.1-53.5 2-16.8 0.3-8.7 -0.3-0.3 -5.6 32.3 -9.9 47 -6.4 43 -7.8 29 -8.8 16 -5 19 -1.1 1 -2.4 0.3 -16-1.9 -4-1 -5.8-2.4 -18.2-4.4 -5 3.2 -8 2.5 -10 2.3 -9.2 3.4 -5.8 3.3 -2.6-0.3 -4.8-3 -3.6-6 -13-6.3 -5.3-3.7 -5.7-2.7zM940 106.7l0 2.7z"/>
<path fill="#26a5e8" d="M775 47l184 0 -3.3 39 -7.7 46.5 -6 27.1 -1 2.8 -1 1 -1-2.2 -1 1.2 -2 6.8 -6 26.4 -14 75.2 -6 19.3 -0.6 0.9 -0.4 2.2 -0.7-0.2 0.7-3.5 5.5-19.5 6.9-40 5.6-38.8 10.2-53.2 4.8-39.6 0.4-6.4 -0.3-2 -8.7 51 -10.3 49 -6.1 41.4 -8 29.8 -9.1 16.8 -4.9 18.5 -1 0.9 -3 0.1 -15-1.7 -9-3.1 -19-4.5 -5 3.1 -9 2.7 -9.1 2 -10.9 4 -3 2 -2 0.6 -4.9-2.6 -1.9-3 -2.2-4.9 -5.7-2.1 -2.3-3.1 -4-1.3 -4-3.7 -9-4.4zM907.9 294l0.1-0.8 0 3.1zM907 297l0 2.3zM906 301l0 1.2z"/>
<path fill="#3bb4e3" d="M775 47l172.8 0 -5.3 37 -9.3 56 -10.6 50 -5.7 39 -8.9 32.4 -8.7 16.6 -5.3 18.3 -1 0.4 -3 0.1 -14-1.5 -8-2.8 -20-4.8 -6 3.4 -18.9 4.9 -9.1 3.4 -4 2.3 -1 0.1 -1.8-0.8 -2.2-1.9 -3.8-7.1 -0.9-1 -4.3-1.9 -3.4-3.1 -5.6-3.2 -3-2.5 -9-4.5zM949.1 47l9.8 0 -3.3 39 -4.4 27 -4.1 21 -3.1 12.5 -1 1.3 -0.2-7.8 -0.8-0.8 -1 4 -10.6 46.8 -10.4 56.6 -0.5-0.6 0.5-5.7 2.5-14.3 4.5-32.8 10.7-56.2 6.8-56zM919 247l0 4.5zM918 254l0 2.2z"/>
<path fill="#50bdd8" d="M775 47l172.3 0 -5 35 -9.3 57.3 -10.7 49.7 -6.3 40 -8 24.7 -9.5 24.3 -4 13 -2.5 4.5 -2 0.4 -13-1 -8.8-2.9 -20.2-4.7 -6 3.4 -20 5.1 -13 5.1 -2.6-1.9 -4-7 -1.4-1.5 -13.4-8.5 -3.6-3 -9-4.9zM949.5 47l9.3 0 -3.4 39 -3.2 20 -4.2 21.9 -2 7.6 -1 1.5 -0.5-2 -0.5-7 -2 5.5 -12.5 56.5 -3.5 19.4 0-5.6 0.4-0.8 1.6-13.6 10.2-53.4zM925 212l0 2.1z"/>
<path fill="#64c1c6" d="M775 47l171.9 0 -5.7 40 -8.2 49.9 -11.6 52.1 -7.4 39.4 -5 13.8 -5.7 8.8 -0.7 4 -4.6 9.4 -0.4 2.6 1 5 -2.7 11 -2.5 8 -2.1 3 -1.3 0.9 -13-0.6 -7-2.4 -22-5 -7 3.7 -18 4.4 -14 4.7 -2.7-2.7 -2.8-5 -1.9-2 -8.6-6 -3.6-2 -5.4-4.3 -9-5.7zM949.9 47l8.8 0 -3.3 38 -4.3 26 -4.1 18.3 -1 1.9 -0.4-3.2 0-7 -0.6-3.4 -4.5 16.4 -0.7 4 0.2 2 -7 30.3 0-4.3 0.5-1 0.5-4.7 3-16.4 1-4.8 0.7-1.1 5.3-45.7zM932 173l0-0.8 0 1.4z"/>
<path fill="#74c4b6" d="M775 47l171.6 0 -5.6 38.9 -9 52.7 -12.1 51.4 -3.9 20.1 -3 10.7 -9 13.6 -3 7.3 -5.8 23.3 0 2 1 5 -2.3 15 -1.5 4 -2.4 2.7 -13 0.1 -7-2.4 -22-4.9 -7 3.7 -19 4.6 -12 3.7 -1-0.2 -2.8-3.3 -1.6-3 -2.6-2.7 -7.3-5.3 -4.7-2.8 -6-4.8 -7-4.8 -2-0.9zM950.4 47l8.2 0 -3.3 38 -4.3 24.9 -3 13.3 -0.7 0.8 -0.3 1.4 -0.3-4.4 0.6-10 -0.3-6.2 -1.8 4.2 -3.2 10.5 0-5.5 3-26.2 5.4-38.8z"/>
<path fill="#77c3ab" d="M775 47l171.3 0 -7.3 48.8 -8.5 45.2 -13.5 56 -2 4.9 -7.5 10.1 -4 7 -7.5 22.6 -2.7 20.4 -0.2 4 0.9 5 0.1 3 -0.9 11 -1.2 4.7 -2 2.8 -13 0.7 -7-2.3 -22-4.8 -7 3.6 -31 7.6 -1.8-1.3 -3.2-5 -3-2.8 -11-7.5 -7-5.7 -7-4.7 -2-0.8zM950.9 47l7.6 0 -3.4 38 -4.1 23.6 -3 11 -0.2-4.6 1.3-15 0.1-7 -0.2-1.3 -1.5 1.3 -1.5 2.3 -0.5-3.3 0.5-7.5 4.8-32.5z"/>
<path fill="#7ac3a0" d="M775 47l170.9 0 -5.9 39.4 -6.4 30.6 -4.2 23 -4.4 17.6 -4 12.3 -8.6 16.1 -2.4 3.7 -5 3.8 -2.3 2.5 -2.7 4.7 -7.5 31.3 -1.5 7.1 -0.7 5.9 0.7 21 1.1 8 0.1 11 -0.4 3 -1.8 3.2 -13 1.3 -7-2.2 -22-4.6 -7 3.6 -25 6 -6 0.6 -1.3-0.9 -2.6-4 -2.8-3 -3.4-2 -2.9-2.7 -6-3.9 -6-5.1 -7-4.6 -3-1.2zM954.6 48l0.5-1 3.3 0 -3.4 38 -3 17.6 -2 8.2 -0.8 1.2 -0.2 1.8 -0.1-5.8z"/>
<path fill="#7dc28e" d="M775 47l169.7 0 -2.7 18 -4 19.9 -5 20.6 -5.8 18.5 -4.3 16 -4.9 9.5 -13 9.3 -2 2.2 -4.2 11 -2.6 10 -3.1 19 -3.1 13.8 -1.7 15.2 -0.4 17 1.3 19 2 20 -0.9 3 -1.3 1.3 -12 1.5 -6-1.8 -23-4.7 -8 3.8 -23 5 -7 0.2 -5.2-6.3 -12.8-9.3 -5.2-4.7 -8.1-5 -3.7-1.4zM955.4 47l2.9 0 -3.5 38 -2.8 16.5 -2 6.7 -0.1-6.2z"/>
<path fill="#80c07d" d="M775 47l154.9 0 -0.9 2.6 -17 29 -9 25.4 -10 39.4 -1 1.5 -1 0.4 -1 3.9 -2.4 51.8 -1.9 19 -0.4 10 0.4 18 1.7 18 2.8 20 -0.2 1.3 -2.2 1.7 -2.8 1.1 -8 1 -5-1.5 -24-4.8 -7 3.6 -13 2.9 -6.7 0.7 -4.3 1 -6-0.2 -2-1.1 -3-3.9 -9.4-7.8 -4.6-3 -4-3.7 -9-5.2 -4-1.2zM955.7 47l2.5 0 -3.5 38 -1.7 10.6 -2 7.6 -0.1-7.2z"/>
<path fill="#8cc269" d="M775 47l128 0 -13 43.1 -1.9 9.9 -1.5 17 -3.1 57 -0.3 27 -1.1 22 1.3 25 4.8 38 -0.6 1 -2.6 1.4 -4 1.3 -4 0.6 -28-6 -2 0.4 -6 3.2 -14 3 -11 0.9 -5-0.7 -2-1.2 -2-2.5 -8.1-7.4 -9.9-7.7 -8.1-4.3 -5.9-2zM956 47l2.1 0 -3.1 33.9 -1 8.2 -2 9.5 -0.6-1.6 0.3-6z"/>
<path fill="#98c555" d="M775 47l115 0 -3.9 16 -1.9 10 -3.4 26 -2.5 77 0.4 47 2.5 25 4.5 33 -0.5 3 0.3 2 -1.5 1.2 -4.7 1.8 -2.3 0.3 -28-5.4 -2 0.4 -6 3.1 -13 2.8 -7 0.3 -6-0.3 -5-1.3 -10-10.1 -10-7.4 -9.2-4.4 -5.8-1.7zM955.9 48l0.3-1 1.8 0 -0.5 2 -3.5 39 -1 5.5 -0.6 0.5 -0.4 2.1 0-3.9z"/>
<path fill="#abcb49" d="M775 47l101.8 0 -1.7 14 -1 18 -0.5 22 0.4 44 -2.1 34 0.5 22 1.2 22 3.4 10.5 2.1 15.5 2.8 15 1.8 14 0.1 4 -1 2 -0.2 2 -1.5 1 -4.1 1.3 -28-4.9 -2 0.4 -6 3 -13 2.7 -6 0.2 -5-0.7 -7-2.3 -8.2-8.7 -7.8-6 -11-5.1 -8-2.2zM956.4 47l1.3 0 -3.7 40 -0.7 2 -0.3 2.9 -0.2-4.9z"/>
<path fill="#bed13d" d="M775 47l47.5 0 0.5 1.9 3 3 7.4 5.1 7.6 8.1 12 6.6 5.6 4.3 5.4 5.5 1.1 3.5 1.6 15 1.3 44 -3 33 0.1 24 1.8 23 8.5 20 3.1 12 2 11 1.5 14 -2 4.4 -2 1.5 -2 0.2 -5-1.1 -6-0.4 -16-2.7 -2 0.4 -6 3 -13 2.5 -3 0.1 -5-0.8 -6-1.8 -3-1.5 -8-8.3 -8-5.9 -13-5.1 -7-1.5zM956.7 47l0.7 0 -0.4 5.7 -0.6 1.3 -0.4 9.9 -0.4-0.9 0-3zM955 65l0-0.4 0 10.4 -0.3-3zM954 78l0-0.7 0 8.1z"/>
<path fill="#d1d832" d="M775 47l25.3 0 0.7 2.1 3.7 3.9 11.3 8.5 7.1 7.5 8.9 11.1 5.7 10.9 3.7 10 6.7 43 3.6 11 2.5 12 1.8 14.1 1.9 23.9 3.1 20 2.7 7 3.6 7 3.2 5 5.5 12.3 2.3 7.7 1.9 15 -0.5 3 -2.7 3.3 -12-0.7 -16-2.3 -2 0.4 -6 3 -6 0.8 -7 1.5 -3-0.2 -8-2.3 -4.9-2.5 -3.1-2.6 -4-4.9 -8-5.8 -15-5.3 -7-0.8zM956.9 47l0.1 2.4z"/>
<path fill="#e3e028" d="M790 50l1-0.8 1 0.9 5 14.7 3 6 3 1.4 6 1.8 5 4.2 4 4.3 5.9 7.5 3.5 5 2.5 5 4 47 4.6 32 1.5 7 10 29.3 5 12.3 2.7 8.4 1.6 2 3 2 3.3 4 3.4 6 7 14.8 1 2.9 1.5 10.3 -0.3 3 -1.2 1.5 -11 0.5 -10-1.3 -8 0.1 -7 3.3 -7 0.7 -6 1.2 -2-0.1 -5.7-1.9 -5.3-2.5 -3.1-2.5 -7.4-8 -6.5-4 -6-1.4 -9-3 -8-0.5 0-193.9 2-1.7z"/>
<path fill="#f1e620" d="M791.8 84l6 8 2.2 1.9 9-2.3 2 1.4 5.6 7 3.2 19 4.9 37 7 39 3.9 15 7.8 21 1.2 2 6 6 6.4 1.6 3.3 2.4 2.8 3 8 18 1 3 0.2 4 1.1 5 1.5 2 -0.2 1 -1.7 0.8 -8 1 -9-1.6 -4 1.3 -5 0.9 -6 3.1 -6 0.2 -8 1.2 -2.6-0.9 -7.6-4 -3.2-4 -6.9-7 -4.7-2.8 -3.1-1.2 -6.9-1.1 -6.3-1.9 -10.7-0.4 0-154.9 3-1.8 5.1-4.9 6.9-15 1-1.7z"/>
<path fill="#fbea1a" d="M791.3 124l0.7-0.5 1 0.8 7 9.1 2-0.3 6-2.3 1 0.1 1 2.4 2.1 11.7 4.5 34 5.4 31 2.8 11 4.8 15 2.1 5 0.6 1 4.7 3.5 10 3 1-0.4 3-3.1 3-1.5 2-0.3 3.8 2.8 3.4 6 1.8 7.5 2 5.5 -0.3 3 -2.1 5 -2.6 2.5 -6 1 -3 2 -6 2.1 -6 3.2 -14-0.5 -4.2-4.3 -5.8-4 -4.1-4 -2.9-4 -5.6-3 -11.5-1 -5.9-1.3 -7 0.5 -5-0.1 0-128.9 5 0.6 4 1.6 2.7-3.4z"/>
<path fill="#fcde18" d="M775 146l0-0.9 1 0.1 1 0.8 7 8.7 4 2.8 2.4 3.5 6.6 16 6.3 18 1.4 5 0.2 3 1.4 39 -0.2 4 -1.6 4 -4.5 3.8 -4 4.2 -7 2.1 -8 1.5 -4 0.2 -2-0.2zM853.7 247l2.3-0.9 1 0.6 3.4 4.3 1.3 3 1 5 0.4 5 -2.3 5 -1.8 2 -3 2 -3.7 4 -11.2 6 -9.3-1 -1.8-1.5 -0.7-1.5 -0.8-4 0.5-2.2 3.1-4.8 8.9-7.3 1.4-1.7 5.6-2.2 1.2-1.8 1.4-4 1.8-3z"/>
<path fill="#facd16" d="M775 156l0-0.8 1 0.1 3 3.7 2.6 4 5.4 10.4 1.4 4.6 3.6 16.7 2.9 9.3 1.7 10 0.9 10 -0.8 20 -1.1 3 -2.6 4 -1.8 5 -1.8 2 -1.6 1 -5.8 1.8 -5 0.6 -2-0.1zM854.6 250l1.4-0.9 1 0.7 1.6 2.2 1.6 4 0.3 4 -0.9 4 -0.6 0.9 -4 4.7 -1.8 3.4 -2.2 2.7 -10 6.3 -4-0.5 -3.6-1.5 -0.5-1 0.1-3 0.9-2 7.7-5 2.3-4 5.1-5 3.9-8z"/>
<path fill="#f8b918" d="M775 164l1 0 1 1.1 3.6 5.9 2.8 6 4.8 14 2.4 11 3 23 -1.9 20 -2.1 11 -2.6 2 -4.3 2 -5.7 1 -2-0.1zM855.1 253l0.9-0.6 1 0.9 1.5 3.7 -0.4 3 -2.1 3.6 -1.6-0.6 -1.9-3 0.8-4zM847.2 266l1.8-0.9 2 0.2 1 0.7 -0.7 1 0.3 4 -1.6 2.7 -2 1.9 -3 1.4 -1.6 2 -2.4 1.7 -2-0.3 -2-1 -0.5-0.4 1-3 2.2-2 2.3-1.1z"/>
<path fill="#f6a51b" d="M775 172l0-0.7 1 0.3 4.4 6.4 6.9 19 1.7 6 0.8 5 1.4 17 -0.7 20 -1.8 10 -1.7 1.8 -5 2.8 -5 1 -2-0.2zM855.6 257l0.4-0.7 0 1.9zM847.7 270l0.6 0 0.5 1 -0.8 1 -1.1-1zM840.7 278l0.4 0 -0.1 0.8z"/>
<path fill="#f4971c" d="M775 177l1 0.1 1 0.9 2.6 4 7.4 20.4 1.8 8.6 1.2 14 -0.6 20 -1.7 9 -1.3 2 -4.6 3 -4.8 1.2 -2-0.2z"/>
<path fill="#f1891d" d="M775 181l1 0 1 1 2.1 4 3 7 3.6 11 1.7 7 1.5 14 -0.5 20 -2 9 -1.4 1.8 -4 2.9 -4 1.1 -2-0.1z"/>
<path fill="#f07c1f" d="M775 185l0-0.6 1 0.4 1 1.3 3.5 6.9 5 15 1.1 6 1.2 12 -0.4 19 -2 8 -1 2 -3.4 2.8 -2.1 1.2 -2.9 0.5 -1-0.1z"/>
<path fill="#ef7020" d="M775 189l0-0.9 1 0.4 3 4.7 1.2 2.8 4.6 15 1.9 15 -0.3 19 -1.2 5 -1.5 4 -1.6 2 -3.1 2.2 -3 1 -1-0.1z"/>
<path fill="#ee6421" d="M775 192l0-0.8 1 0.3 2.4 3.5 4.3 13 2.1 11 0.8 8 -0.1 17 -1.2 5 -2.3 6 -3.9 3 -2.1 0.7 -1 0z"/>
<path fill="#ec5822" d="M775 194l0-0.5 1 0.3 1.5 2.2 4.1 13 2.4 12.6 0.5 5.4 -0.4 19 -3.3 9 -2.8 2.3 -2 0.9 -1 0z"/>
<path fill="#eb4c23" d="M775 196l1 0.3 1 2 3.6 11.7 2.4 14 0.2 4 -0.2 17 -3.4 10 -2.6 2.1 -2 0.5z"/>
<path fill="#e94223" d="M775 200l0-0.8 1 0.7 3.2 10.1 2.5 17 -0.2 18 -2.4 9 -2.1 2.2 -2 0.7z"/>
<path fill="#e63a24" d="M775 204l0-0.5 1 0.7 1.9 5.8 2.3 17 -0.3 18 -2 9 -0.9 1.2 -2 0.7z"/>
<path fill="#e43224" d="M775 208l1 0.6 0.7 2.4 1.9 16 -0.3 18 -1.8 9 -0.5 0.7 -1 0.3z"/>
<path fill="#d73024" d="M775 216l1 1.9 1.1 8.1 -0.4 19 -0.7 3.3 -1 1.4z"/>
</g>
<path d="M773 45H983V344H773ZM777.4 49.8 L978.6 49.8 L978.6 316.4 L974.8 339.0 L854.9 339.0 L852.2 336.1 L849.6 333.2 L847.0 330.9 L844.4 328.9 L841.4 327.4 L838.1 326.7 L832.7 326.9 L827.5 327.4 L823.3 328.4 L819.2 329.9 L816.4 331.8 L814.0 334.3 L811.8 336.7 L809.8 339.0 L798.3 339.0 L782.8 320.8 L777.4 320.8Z" fill="#fff" fill-rule="evenodd" stroke="none"/>
<path d="M777.4 320.8V339.0H798.3M809.8 339.0H854.9M974.8 339.0H978.6M777.4 339.0v-2.6M844.5 339.0v-2.6M978.6 339.0v-2.6M777.4 339.0h2.6" fill="none" stroke="#9a9a9a" stroke-width="0.7"/>
<rect x="984.7" y="49.8" width="9.2" height="289.2" fill="url(#cbg)" stroke="none"/>
<path d="M984.7 297.7h2.2M993.9 297.7h-2.2" stroke="#333" stroke-width="0.7" fill="none"/>
<path d="M984.7 256.4h2.2M993.9 256.4h-2.2" stroke="#333" stroke-width="0.7" fill="none"/>
<path d="M984.7 215.1h2.2M993.9 215.1h-2.2" stroke="#333" stroke-width="0.7" fill="none"/>
<path d="M984.7 173.7h2.2M993.9 173.7h-2.2" stroke="#333" stroke-width="0.7" fill="none"/>
<path d="M984.7 132.4h2.2M993.9 132.4h-2.2" stroke="#333" stroke-width="0.7" fill="none"/>
<path d="M984.7 91.1h2.2M993.9 91.1h-2.2" stroke="#333" stroke-width="0.7" fill="none"/>
<text x="775.4" y="55.6" font-size="17.1" text-anchor="end" >-1800</text>
<text x="775.4" y="84.5" font-size="17.1" text-anchor="end" >-1820</text>
<text x="775.4" y="113.4" font-size="17.1" text-anchor="end" >-1840</text>
<text x="775.4" y="142.3" font-size="17.1" text-anchor="end" >-1860</text>
<text x="775.4" y="171.2" font-size="17.1" text-anchor="end" >-1880</text>
<text x="775.4" y="200.1" font-size="17.1" text-anchor="end" >-1900</text>
<text x="775.4" y="229.0" font-size="17.1" text-anchor="end" >-1920</text>
<text x="775.4" y="257.9" font-size="17.1" text-anchor="end" >-1940</text>
<text x="775.4" y="286.8" font-size="17.1" text-anchor="end" >-1960</text>
<text x="775.4" y="315.7" font-size="17.1" text-anchor="end" >-1980</text>
<text x="775.4" y="344.6" font-size="17.1" text-anchor="end" >-2000</text>
<text x="779.3" y="355.0" font-size="17.1" text-anchor="middle" >0</text>
<text x="844.7" y="355.0" font-size="17.1" text-anchor="middle" >50</text>
<text x="913.0" y="355.0" font-size="17.1" text-anchor="middle" >100</text>
<text x="980.3" y="355.0" font-size="17.1" text-anchor="middle" >150</text>
<text x="997.0" y="343.5" font-size="17.1" text-anchor="start" >0</text>
<text x="997.0" y="304.7" font-size="17.1" text-anchor="start" >0.5</text>
<text x="997.0" y="262.3" font-size="17.1" text-anchor="start" >1</text>
<text x="997.0" y="222.4" font-size="17.1" text-anchor="start" >1.5</text>
<text x="997.0" y="181.7" font-size="17.1" text-anchor="start" >2</text>
<text x="997.0" y="141.2" font-size="17.1" text-anchor="start" >2.5</text>
<text x="997.0" y="100.7" font-size="17.1" text-anchor="start" >3</text>
<text x="997.0" y="58.8" font-size="17.1" text-anchor="start" >3.5</text>
<g clip-path="url(#cpd)" stroke="none">
<rect x="1122.3" y="45.2" width="208.3" height="295.8" fill="#3f318b"/>
<path fill="#3e3792" d="M1122 45l209 0 0 296 -45.8 0 -1.2-2.6 -3-2.7 -2-0.6 -5 0 -2-0.7 -7-5.9 -8-4.8 -0.9-1.7 -0.5-4 -0.6-19.4 -2.5 7.4 -2.2 4 -2.1 9 0.7 2 2.2 2 0 3 -1.1 2.1 -3.6 1.9 -0.7 1 -1.7 10 -13.3 0 -0.6-4 -4.1-15.3 -6-17.4 -5.1-12.3 0.9-1 4.7-1 -1.5-1 -5.7-1 -2.6-4 -4.7-5.3 -19-16.3 -2-1.2 -28.4 16.8 -13.6 9 -10-4 -9-4.6 -2-0.2z"/>
<path fill="#3c3c98" d="M1122 45l209 0 0 296 -41.7 0 -1.3-11.4 -1-4.5 -1.4-3.1 -0.6-0.5 -11 6.5 -1 0.3 -1-0.3 -2-2.6 -5-8.9 -7-4.9 -1-3.3 -0.3-3.3 0.6-17 7.7-40.8 0-5.4 -2 5.1 -6.9 22.1 -6.3 17 -0.2 3 1.5 6 0.1 2 -2 7 -3.7 5 -1.2 6 -0.6 4 0.3 1 5 3.5 0.9 1.5 -0.9 1.3 -5 2.3 -1.8 1.4 -1.6 11 -4.3 0 -2.3-21 -3.1-16 0.8-4 -0.7-1.8 -2.3-2.2 -1.8-7 -3.4-7 -3.5-4.9 -8-8.2 -26-23.3 -1-0.5 -1 0.2 -18 12 -23 12.9 -3-0.9 -7-3 -11-7.3z"/>
<path fill="#394da9" d="M1122 45l209 0 0 296 -40.3 0 -1.7-25.6 -1-7 -2-5.2 -1 0.3 -2 6.4 -2.8 5.1 -7.2 4.3 -1-0.3 -1-1.3 -3.1-6.7 -1.9-2.5 -7-2.4 -0.6-1.1 -0.6-5 0.3-12 7.9-41.8 4-31.5 0-10.3 -2.3 9.6 -8.5 29 -8.1 24 -2.7 5 -4.5 11 -0.6 5 2.7 6.6 0.9 4.4 -0.9 2.7 -5.3 6.3 -1.7 7.1 -1-3.4 -4-28.4 -2-5.7 -5-7.2 -7-8.2 -19-15.7 -15-14.7 -1-0.6 -1 0.2 -26 17.1 -11 6.4 -4 1.8 -10-4.1 -9-6.8 -2-0.9z"/>
<path fill="#3363bd" d="M1122 45l209 0 0 296 -39.5 0 -2.5-40.8 -1-4.7 -2-3.5 -1 0.3 -3 11.7 -1.3 3 -1.7 1.7 -6 1.9 -1-0.1 -1-1 -5-6.8 -2-1 -4-0.7 -1-1.6 -0.5-6.4 0.2-6 8.3-45.1 3-21.7 2-21.3 0-7.9 -5.6 21 -7.9 25 -11.1 28 -4.2 5 -3.2 7.4 -1 1.1 -1-1.3 -5-12.6 -1.8-2.6 -23.2-20.2 -11-10.5 -11-11.8 -1-0.6 -9 6.2 -7.1 3.9 -20.7 13 -5.2 2.7 -10-4.8 -4-3.5 -5-5.9 -2-1.5z"/>
<path fill="#2c81d2" d="M1122 45l209 0 0 296 -38.7 0 -2.3-41.7 -2-13.1 -2-4.4 -1-0.5 -3.7 17.7 -1.3 3.3 -1 1.1 -5 1.2 -2-0.1 -6-7.5 -1-0.5 -4-0.2 -1-0.5 -1-4.8 0.4-6 6.6-34.2 4-28.2 3-29.1 0.3-8.5 -0.3-1.8 -8 27.3 -8.8 25.5 -12.2 26.1 -2 2.1 -2 1.1 -1-0.6 -7-10.2 -25-23.5 -13.7-14 -7.3-6.7 -1-0.4 -1 0.3 -7.6 5.8 -7.7 5 -5.7 2.8 -10.6 4.2 -9.4 5.1 -12-6.7 -9-6.5z"/>
<path fill="#26a5e8" d="M1122 45l209 0 0 296 -37.9 0 -2.1-40 -1-11.4 -2-13.3 -1.7-5.3 -1.3-2 -1 1 -2 20.6 -1 3.7 -2 3.8 -2 0.6 -5 0 -3.9-3.7 -2.1-1.3 -5-0.3 -1-1.1 -0.4-3.3 0.4-5 6.2-33 4.1-29 3.8-37 0.1-5 2.1-12 -0.3-2.2 -6 22.7 -7.4 21.5 -8.7 23 -6.9 14.5 -5 6.7 -2 2 -1 0.2 -1-0.8 -5-7.7 -6-6.5 -34.1-33.4 -6.9-5.3 -2-0.2 -4.5 2.5 -14.4 11 -3.1 1.8 -10 4.6 -8 2.7 -3-0.4 -8-3.2 -9-7.6 -2-1zM1277 162.4l0 2.2z"/>
<path fill="#3bb4e3" d="M1122 45l209 0 0 296 -37 0 -2.2-42 -1.8-20 -1.6-10 -3.4-5.8 -1 0.5 -1 4.7 -1.1 15.6 -0.7 5 -1.2 3.6 -1 1.4 -2 0.4 -5-0.1 -6-3.3 -5-0.3 -0.4-0.7 -0.3-5 6.7-37 4-29.7 3.5-37.3 3.5-17.9 0.4-4.1 -0.4-1.4 -1 1.4 -1 2.8 -7 24.2 -7.7 20 -10.8 26 -6.5 13.6 -5 4.1 -1-0.8 -6-9.4 -31.4-32.5 -4.6-4 -10-6.4 -1-0.3 -2 0.6 -12 6 -6 4.1 -11.1 9 -9.9 4.3 -3-0.4 -7-3.4 -9-8.2 -3-1.7z"/>
<path fill="#50bdd8" d="M1122 45l209 0 0 296 -36.1 0 -2.3-45 -2.1-25 -1.4-6 -4.1-7.5 -1 0.2 -1 4.2 -1.1 8.1 -1 15 -0.9 3.8 -1 1.9 -1 0.5 -6 0 -6-3 -4 0.1 -1-1 0-4.1 6.1-34.2 3.9-28.9 3.8-39.1 4.2-21.6 0.6-7.4 -0.6-1.9 -3.5 9.9 -5.5 18.1 -6 14.8 -15.5 35.1 -6.5 13.5 -1 1.7 -1 0.6 -1-0.3 -1-1.1 -5-8.4 -6-7.3 -11.4-11.7 -8.8-10 -8.8-7 -12-7.6 -1-0.3 -2 0.5 -9 4 -8.7 4.4 -8 5 -12.1 10 -2.2 1 -2-1 -15-11.9 -2-1.2 -2-0.5zM1280 147.6l0 1.6z"/>
<path fill="#64c1c6" d="M1122 45l209 0 0 296 -34.8 0 -2.9-52 -2-23 -1.3-4.2 -2-4.2 -3-4.3 -1 0.1 -1.1 2.6 -1.7 13 -1.2 14.9 -1 3.4 -1 0.7 -6 0.1 -6-2.8 -1-0.3 -3 0.5 -0.2-0.5 0.2-5 5.3-30 3.8-29 4.1-41 3.8-19 2-13 1-9 -0.1-1 -0.9-0.9 -6.5 20.9 -7.4 21 -10.7 25 -10.5 23 -4.9 8.6 -1 1.3 -1 0.5 -2-2.5 -5-9 -9.9-10.9 -7.7-10 -8.4-7.8 -10.4-8.2 -8.6-11.6 -2-1.8 -1 0.4 -12.7 12 -16 9 -12.3 8.5 -13-7.2 -5-1.8 -3-0.5z"/>
<path fill="#74c4b6" d="M1122 45l209 0 0 296 -33.3 0 -3.2-52 -2-24 -2.5-8.3 -1.4-2.7 -2.6-3.1 -1-0.7 -1 0.1 -1.9 4.7 -3.1 26.5 -1 2.8 -5 0.3 -2-0.4 -5-7.5 -2 1 -0.2-0.7 0.2-6.1 3.5-20.9 3.9-30 4-40 3.6-17.7 3.1-19.3 0.5-7 -0.6-3.4 -3 4.4 -6.6 21 -6.9 18 -7.3 17 -14.3 32 -3.9 5.9 -1 0.6 -1.4-1.5 -4.6-8.7 -5.1-6.3 -7.5-11 -7.4-8.1 -7.2-6.9 -12.1-18 -6.7-6.5 -2-1.2 -1 0.4 -7.5 6.3 -14.5 13.2 -7 5.2 -11 6.8 -2 0.4 -5-1.4 -15-2.6z"/>
<path fill="#77c3ab" d="M1122 45l209 0 0 296 -31.7 0 -1.5-25 -4.2-51 -2.3-10 -2.3-4.6 -4-3.2 -1 0.2 -1 1.7 -1.9 5.9 -2.1 16.2 -1 3.3 -2 0.5 -4-0.1 -1-0.4 -2.9-4.5 -2.1-1 -0.6-1 6.2-49 3.9-38 4.5-23 3-19 0.4-10 -0.4-3.5 -1.4 1.5 -4 9 -6.7 20 -7.9 19.1 -21 47.6 -2 2.9 -1 0.3 -1-1 -11-20.1 -12.2-15.8 -10.4-18 -10.5-12 -6.9-8.6 -2-1.6 -1 0.7 -6.4 8.5 -3.6 3.6 -18.6 15.4 -11.4 8.3 -2 0.6 -20-0.7z"/>
<path fill="#7ac3a0" d="M1122 45l209 0 0 296 -29.9 0 -1.5-25 -5-52 -2.5-12 -2.1-4.5 -5-3.3 -1.4 0.8 -2.8 7 -1.8 9.6 -1 2.9 -1 0.5 -6 0 -3-0.4 -1-0.8 0.1-5.8 4.9-40.6 3.7-36.4 4.3-21.7 3-18.3 2.6-34 -0.6-0.5 -5.4 17.5 -11.4 31 -9.9 22 -15.6 38 -2.7 5.1 -1 0.6 -1-0.9 -2.6-4.8 -3.4-10 -9.3-16 -8.7-18.1 -23-33.6 -4-5 -2-1.5 -2 2.2 -9.8 16 -4.6 6 -7.4 7 -16.2 12.5 -3 1.6 -20 2.2zM1286 104l0 2.2z"/>
<path fill="#7dc28e" d="M1122 45l209 0 0 296 -27.8 0 -2.3-33 -5.1-44 -2.3-14 -2.5-5.9 -3.9-2.1 -2.1-0.6 -1 0.3 -1.5 2.3 -3.5 9.7 -1 1.3 -7 0.3 -2 1 -0.4-1.3 1.4-21.3 2.1-15.7 3.8-37 7.2-39 2.4-25 2.5-17.1 0.8-10.9 -0.8-0.6 -0.4 0.6 -3.9 15 -6.2 19 -12.4 30 -10.7 22 -13.6 38 -0.8 1.8 -1 0.9 -1-1 -0.7-1.7 -5.3-18 -6.6-17 -5.4-11.8 -23.1-42.2 -4.9-7.1 -6-4.1 -1-0.2 -2 1 -5 4.6 -3.8 6.8 -7.2 17 -7 10 -5 5 -12 9.2 -21 4.7z"/>
<path fill="#80c07d" d="M1122 45l209 0 0 296 -25.6 0 -4.1-52 -4.3-25.3 -1.4-13.7 -1.3-5 -2-4 -2.3-1.7 -5-0.7 -1 0.3 -2.1 3.1 -2.9 7.5 -1 0.9 -6-1 -2 0.6 -0.3-1 0.6-16 2-15 3.6-36 7.7-42 2.6-25 2.8-19.5 0.5-6.5 -0.5-1.9 -1-0.1 -1 0.6 -0.8 1.4 -4 14 -6.8 19 -13.4 28.9 -11.6 22.1 -4.3 13 -4.5 16 -1.6 4.3 -1 1.2 -1-1.8 -1.4-4.7 -4.7-22 -4.9-14.5 -6-14.4 -20.2-39.1 -2.8-3.5 -5-4.5 -2-1.2 -5-1.6 -3 0.3 -5 2 -6 6 -3.8 6.5 -10.3 25 -5.6 8 -5.4 6 -2.9 2.4 -2 1 -9 1.8 -11 3zM1289 84.5l-0.5 0.5 0.5 0.5 0.5-0.5z"/>
<path fill="#8cc269" d="M1122 45l209 0 0 296 -23.4 0 -3.9-52 -2-14 -3-15 -1.6-15 -0.7-3 -1.4-3 -3-3.2 -7 0 -2 1.6 -4 7.8 -1 0.7 -5-2 -2 0.3 -0.4-1.2 -0.2-7 0.4-6 1.6-11 3.8-38 7.7-41 2.5-24 2.6-16.2 0.9-12.8 0.5-2 -0.4-1.3 -1-0.5 -1.9 0.8 -0.2 2 -1.5 2 -3.4 11 -8.2 21 -11.8 23.1 -15.6 27.9 -2.7 8 -3.7 15 -1 2 -1-3.2 -5-28.9 -3.3-11.9 -3.1-8 -9.8-18 -7.9-16 -9.9-15.8 -7-7.9 -5-2.2 -2-0.5 -1 0.2 -6 2.8 -7 8.2 -8.9 15.2 -12.1 26.6 -2.7 4.4 -3.3 4.1 -2 1.4 -9 1.8 -11 2.9z"/>
<path fill="#98c555" d="M1122 45l209 0 0 296 -21.2 0 -3.7-53 -6.7-49 -1.4-4.5 -4-3.4 -3-0.4 -7 2.8 -5 7.5 -1 0.4 -3.2-1.4 -2.8-0.4 -1-0.6 -0.3-4 0.3-5.6 1.5-10.4 3.9-38 7.6-40.3 2.7-24.7 2.6-16 1.6-15 -1.9-4.4 -3.5 3.4 -5.2 15 -8.6 20 -12.7 22.6 -16.1 26.4 -2.9 7.3 -1 1.3 -1.6-6.6 -3.3-23 -2.1-7.2 -11-19.8 -15-29.8 -7-12.2 -7-9.2 -6-3.2 -2 0 -6 3.6 -7 9.6 -7 12.3 -13 26.4 -8 13.5 -1 0.6 -9 1.8 -11 3.1z"/>
<path fill="#abcb49" d="M1122 45l209 0 0 296 -19 0 -2-25 -1.4-27 -1.5-16 -4.1-29 -1.4-14 -0.6-1.8 -2-1.7 -0.7-1.5 -0.5-10 -1.8-14.1 -2-0.4 -1 0.7 -1 2.2 -7.4 22.6 -0.3 4 -4.3 6.8 -1 1.2 -1 0.3 -6-0.6 -1-1.6 0.3-7.1 1.4-10 4-39 7.5-39 2.9-25 2.8-18 1.4-13 -1.3-10.3 -0.9-1.7 -1.1 0.7 -1 2.1 -8 21.2 -9 20.1 -11 18.7 -4 4.1 -5.7 1.1 -1.7 1 -7.6 11 -1-1.1 -2.5-12.9 -3.1-9 -15.5-29 -18.9-41.4 -7-10.4 -7-4.1 -7 4.7 -6 9.6 -21 43.8 -7 11.7 -2 1.7 -18 2.9 -2-0.2z"/>
<path fill="#bed13d" d="M1122 45l48 0 -15.7 37 -4.3 8.6 -6 10.4 -2 2 -18 4.2 -2-0.2zM1201 45l130 0 0 296 -16.8 0 -1.9-25 -1.9-37 -1.8-19 -3.4-23 -0.5-8 -2.3-5 -0.3-9 -1.9-15 -2-8 -1.2-2.1 -2-0.8 -1 0.4 -2 3.5 -2 5.3 -8 27.7 0.7 3 -0.8 2 -2.6 4 -1.3 0.8 -6 0 -0.6-1.8 0.2-6 1.5-11 3.8-37 7.5-39 3.1-26 2.7-16 1.5-14 -0.8-11 -0.9-4.6 -1-0.1 -2.8 3.7 -9.6 23 -9.4 21 -9.2 15.5 -1 1.3 -5 1.2 -9 0.5 -2-1.2 -1.7-2.3 -4.8-12 -11.6-22z"/>
<path fill="#d1d832" d="M1122 45l41.2 0 -4.3 12 -7.4 17 -7.5 13.1 -1 1.3 -2 1.2 -18 7.3 -1 0zM1208.2 45l122.8 0 0 296 -14.5 0 -1.8-26 -2.8-55 -4-24 -0.2-8 -1.3-4 -2.2-24 -1.7-5 -3.2-13 -1.3-2.2 -2-0.7 -2 1.2 -6 14.7 -3 11.3 -4.2 19.7 0 4 -1.8 2.7 -1 0.6 -5 0.6 -1-0.2 -0.1-0.7 -0.1-5 1.5-10 3.7-37.3 7.6-39.7 3-25 2.9-17 1.6-14 -1.1-18 -1-1.2 -1.8 0.2 -1 1 -22.7 50 -4.5 7.5 -4 4.3 -2 0.6 -3-0.2 -3-1.6 -2-1.8 -5.8-7.8 -11.8-22 -10-23z"/>
<path fill="#e3e028" d="M1122 45l35.5 0 -5.7 15 -8.8 15.4 -2 1.6 -14 8.3 -3 1.6 -2 0.3zM1214.1 45l116.9 0 0 296 -12.3 0 -3.8-80 -4.2-26 0.1-6 -1.6-14 -0.6-16 -3.6-6.3 -3-13.7 -1.6-4 -1.4-1.2 -2-0.2 -1 0.7 -3 3.7 -2.7 2 -1.3 2.4 -3 11.7 -4.4 24.9 -2.6 11 -2 1.2 -4 0.9 -1-1.9 5.3-50.2 7.5-39 3.2-26 2.8-16 1.6-14 -0.7-19 -0.7-1.2 -2-0.5 -2-0.2 -1 0.9 -24.1 52 -3.9 6 -3 1.7 -2 0.5 -2.3-1.2 -2.3-2 -4.9-8 -4.5-13.4 -6-9.2 -7.8-16.4 -6.6-17z"/>
<path fill="#f1e620" d="M1122 45l30.1 0 -4.6 11 -4.5 7.1 -16.2 12.9 -2.8 1.8 -2 0.6zM1219.5 45l111.5 0 0 296 -10 0 -2.5-53 -0.8-27 -2.6-14 -1.7-12 -1.7-20 -0.2-16 -0.5-2.1 -3.3-4.9 -1.7-3.8 -1.2-5.2 -0.8-7.6 -1.8-5.4 -1.2-1.7 -2-0.4 -1 0.4 -4 6.1 -2 1.6 -2 0.3 -2 2.8 -3 14.7 -3.8 23.2 -2.2 8.9 -1 2.3 -1 0.6 -4 1.4 -0.3-1.2 4.8-49 7.7-40 3-24 2.8-16 1.8-15 -0.3-18 -0.5-2.9 -2-1.6 -2-0.5 -2-0.1 -1 0.9 -10.6 23.2 -14.5 30 -2.9 4.2 -3 1.1 -3-2.3 -3.4-7 -7.6-22.7 -2-4 -5-7.4 -3.4-6.9 -4.3-10z"/>
<path fill="#fbea1a" d="M1122 45l24.1 0 -2.1 4.5 -2 2.9 -15.2 14.6 -2.8 2.2 -2 0.8zM1224.7 45l106.3 0 0 296 -7.5 0 -2.4-53 -0.6-28 -3.6-16 -2.9-21 -0.8-8 -0.4-17 -1.4-4 -3.4-6.4 -1.4-3.6 -0.7-4 -0.2-9 -2.2-7 -1.5-2.2 -2-0.4 -1 1.1 -5 9.9 -1 0.8 -1-0.1 -1-0.7 -1 0.2 -1 1.6 -2.2 5.8 -5.8 33.8 -2 8.6 -2 3.6 -3 1.1 -0.2-1.1 3.9-46 7.8-40 2.9-24 3-16 1.9-15 -0.2-20 -0.7-3 -0.4-0.9 -1-0.6 -4-0.9 -2-0.1 -1 1 -11.1 24.5 -7.5 15 -8.2 16 -1.2 1.2 -1 0.1 -1.1-1.3 -2.2-6 -10.7-32.5 -9-14.8z"/>
<path fill="#fcde18" d="M1122 45l12.3 0 -3.7 5 -5.7 10 -1.9 1.7 -1 0.1zM1230.3 45l3.3 0 -0.6 4.6 -1-0.5zM1235.4 45l52.2 0 -4.2 12 -11.9 27 -7 14 -1.5 2.1 -1 0.2 -8-2.2 -2-1.1 -0.5-1 -10.2-32 -2.3-4zM1293.4 45l37.6 0 0 296 -3.1 0 -0.9-1.9 -1-11.2 -2.4-67.9 -4.2-15 -3.3-19 -1.4-11 -0.7-17.2 -2-6.5 -4.7-10.3 0-4 0.8-5 -1.7-10 -2.4-6 -2-1.9 -1-0.2 -1 1.5 -3.4 10.6 -1.6 3.1 -1 1.3 -1 0.4 -2-2.8 -2 3.8 -3 9.5 -6 33.3 -1 3.5 -1 2.1 -1 0.9 -1 0.1 -0.8-2.2 -0.2-5 3-34 7.5-39 3.4-26 2.8-15 2-15z"/>
<path fill="#facd16" d="M1238.4 45l47.2 0 -4.3 12 -11.6 27 -5.7 11.8 -1 1.5 -1 0.5 -6-1.7 -1.4-1.1 -10.6-32 -2.2-4zM1294.5 45l36.5 0 0 121.5 -1 8.3 -2.9 58.2 -1.1 9.3 -1 1.6 -0.6 0.1 -1.4 0.1 -1-0.7 -2-5.7 -3.7-21.7 -1.2-19 -2.3-8 -4.2-9 1.6-7 -1.5-14 -2.7-8 -3-4.4 -1-0.2 -1 1.7 -4.8 16.9 -1.2 2.4 -1 1.1 -0.7-0.5 -1.3-4.4 -2 3.4 -4.2 13 -6.8 33.2 -1 2.1 -1 0.5 -0.7-1.8 0-9 1.9-25 7.6-39 3.3-26 3-15 2.1-15z"/>
<path fill="#f8b918" d="M1241.1 45l42.6 0 -4.4 12 -11 26 -4.5 10 -1.8 2.2 -3-0.6 -1.7-1.6 -10.3-30 -2.3-5zM1295.3 45l35.7 0 0 110.1 -2 2.1 -2.4 5.8 -0.7 3 -1.6 50 -1.2 12 -1.1 3.5 -1-0.2 -2.3-10.3 -0.9-6 -1.4-18 -0.8-4 -1.9-7 -2.8-6 0.1-2 1.3-5 -2.1-21 -2.3-6 -2.7-5 -1.2-1.4 -1-0.1 -1 1.5 -7 24.5 -1 0.3 -0.3-0.8 0.2-6 -0.9-0.7 -3 6.8 -4.6 14.9 -5.4 24.3 -1 2.9 -1 1.3 -0.6-2.5 0.1-11 1-15 7.7-40 3.2-25 3-15 2.4-15z"/>
<path fill="#f6a51b" d="M1243.8 45l38 0 -13.8 34.3 -5 11.7 -1 1.4 -1 0 -1-1.4zM1296 45l35 0 0 100.1 -2 1.5 -2.4 4.4 -2.9 7 -2.1 7 -0.3 49 -0.3 2.8 -1 0.1 -0.4-1.9 -2.1-20 -1.7-9 -2-7 0.5-6 -0.9-8 -0.4-12 -0.8-6 -1.2-4 -2-4 -1.3-2 -1.4-1 -2.3-0.5 -1 0.6 -1 1.6 -1.3 3.3 -4.7 16.3 -0.4-5.3 -0.6-1.3 -1 2.1 -5 14 -3.9 13.2 -2.1 9.5 -4 11.2 -0.5-1.7 -0.3-8 0.7-12 7.4-38 3.4-26 3.1-15 2.5-15z"/>
<path fill="#f4971c" d="M1246.9 45l31.7 0 -11.6 30.3 -1 2 -1 0.8 -5 0 -1.3-1.1zM1296.5 45l34.5 0 0 75.1 -2 1.2 -1.4 3.7 -1.7 14 -4.9 9.7 -4.1 16.3 -0.9 0.4 -0.8-20.4 -1.7-11 -1.4-3 -3.1-1.3 -5 2.3 -2 2.9 -3 6.5 -2 0.2 -8 24 -4.3 14.4 -1.7 7.3 -1 3 -2 3.7 -1-0.7 -0.1-1.3 0.2-12 7.6-40 3.3-25 5.8-30z"/>
<path fill="#f1891d" d="M1250.4 45l23.7 0 -9.1 26.3 -1 2 -1 0.6 -1-0.3 -1-1.4zM1297.1 45l25.7 0 -1.1 40 -1.9 22 -0.8 5.9 -1 2.4 -2 0.2 -1 0.8 -3 3.9 -7 6.8 -5 8.3 -2-1.4 -2.6 10.1 -10.9 35 -1.5 6.2 -2 4.4 -1 0.6 -0.7-5.2 0.5-7 7.1-38 3.4-25 6-30z"/>
<path fill="#f07c1f" d="M1297.5 45l23.8 0 -1.7 41 -2.9 15 -3.9 10 -4.3 7 -3.5 4.5 -4 7.5 -1-1 -1-3 -1 2.5 -1.9 10.5 -1.8 7 -11.3 36.9 -2 3.8 -1-0.8 0-7 7.2-38.9 3.4-25 3.6-16 2.5-14z"/>
<path fill="#ef7020" d="M1298 46l0-1 22.3 0 -2 40 -3.6 15 -7 14 -5.7 9 -1-1.6 -1-3.9 -1 2.3 -3.5 20.2 -1.1 4 -9.4 31.2 -3 7.4 -1 0.6 -0.5-3.2 0.5-5 6.5-35 3.3-25 3.6-15 2.6-14z"/>
<path fill="#ee6421" d="M1298.5 45l20.8 0 -2.4 40 -1.9 7.5 -2 5.7 -9 16.8 -1 1 -2-5.3 -1 1.7 -2 8.9 -3 19.1 -9 30.6 -2 5.4 -2 3.1 -0.6-1.5 0.6-7 5.8-31 3.2-23.9 3.9-16.1 2.6-14z"/>
<path fill="#ec5822" d="M1299 45l19.1 0 -2.6 39 -1.5 5.5 -5 10.7 -4 5 -1-0.2 -1-1 -1 0.6 -1 1.9 -2.5 8.5 -4.4 27 -7.1 24.8 -2 5.7 -2 3.1 -0.6-2.6 0.6-6 5.2-27 3.4-25 3.8-15 2.5-14z"/>
<path fill="#eb4c23" d="M1299.6 45l17.2 0 -1.2 20 -1.6 14.8 -0.8 5.2 -2.2 4.8 -2 2.9 -2 0.6 -3 3.7 -3 6.2 -3.4 12.8 -3.6 24.6 -3.3 10.4 -3.7 14.6 -1 2.8 -2 3.4 -0.6-2.8 0.5-5 4.8-24 3.3-25 4.2-16 2.1-13z"/>
<path fill="#e94223" d="M1300.5 45l15 0 -1.5 14.8 -4.3 25.2 -0.7 1.3 -1 0.2 -1-2.1 -5 11.6 -2.6 9 -2.6 11 -3.4 24 -2.8 9 -3.6 15 -2 4.1 -0.6-1.1 0-2 4.9-25 3.4-25 4-15 2.1-14z"/>
<path fill="#e63a24" d="M1301.9 45l10.8 0 -1.7 11 -0.8 19 -1.2 7.2 -1-1.2 -0.3-2 -0.7-18.5 -1.1 5.5 -1.2 19 -3.9 8 -3.3 13 -2 10 -2.5 19.3 -3 11.8 -0.1-4.1 3.1-23.3 1-5.7 3.6-13 2.1-15 1.7-25zM1289 148l0 1.8z"/>
<path fill="#e43224" d="M1307.2 45l3.5 0 -0.9 27 -0.8 7.1 -0.7-3.1z"/>
<path fill="#d73024" d="M1307.7 45l2.5 0 -1.2 31.3 -0.7-8.3z"/>
<path fill="#cb2f23" d="M1308.2 45l1.6 0 -0.8 26.3z"/>
<path fill="#be2d23" d="M1308.4 45l1.2 0 -0.6 19.7z"/>
<path fill="#a52820" d="M1308.7 45l0.6 0 -0.3 9.2z"/>
</g>
<path d="M1120 43H1333V344H1120ZM1124.3 47.2 L1328.6 47.2 L1328.6 316.2 L1324.7 339.0 L1203.0 339.0 L1200.3 336.1 L1197.6 333.2 L1195.0 330.8 L1192.3 328.8 L1189.3 327.3 L1185.9 326.6 L1180.5 326.7 L1175.2 327.3 L1170.9 328.3 L1166.7 329.9 L1163.9 331.7 L1161.5 334.2 L1159.2 336.7 L1157.2 339.0 L1145.5 339.0 L1129.8 320.6 L1124.3 320.6Z" fill="#fff" fill-rule="evenodd" stroke="none"/>
<path d="M1124.3 320.6V339.0H1145.5M1157.2 339.0H1203.0M1324.7 339.0H1328.6M1124.3 339.0v-2.6M1192.4 339.0v-2.6M1328.6 339.0v-2.6M1124.3 339.0h2.6" fill="none" stroke="#9a9a9a" stroke-width="0.7"/>
<rect x="1335.1" y="47.2" width="8.8" height="291.8" fill="url(#cbg)" stroke="none"/>
<path d="M1335.1 297.3h2.2M1343.9 297.3h-2.2" stroke="#333" stroke-width="0.7" fill="none"/>
<path d="M1335.1 255.6h2.2M1343.9 255.6h-2.2" stroke="#333" stroke-width="0.7" fill="none"/>
<path d="M1335.1 213.9h2.2M1343.9 213.9h-2.2" stroke="#333" stroke-width="0.7" fill="none"/>
<path d="M1335.1 172.3h2.2M1343.9 172.3h-2.2" stroke="#333" stroke-width="0.7" fill="none"/>
<path d="M1335.1 130.6h2.2M1343.9 130.6h-2.2" stroke="#333" stroke-width="0.7" fill="none"/>
<path d="M1335.1 88.9h2.2M1343.9 88.9h-2.2" stroke="#333" stroke-width="0.7" fill="none"/>
<text x="1122.0" y="56.0" font-size="17.1" text-anchor="end" >-1800</text>
<text x="1122.0" y="84.9" font-size="17.1" text-anchor="end" >-1820</text>
<text x="1122.0" y="113.7" font-size="17.1" text-anchor="end" >-1840</text>
<text x="1122.0" y="142.6" font-size="17.1" text-anchor="end" >-1860</text>
<text x="1122.0" y="171.5" font-size="17.1" text-anchor="end" >-1880</text>
<text x="1122.0" y="200.3" font-size="17.1" text-anchor="end" >-1900</text>
<text x="1122.0" y="229.2" font-size="17.1" text-anchor="end" >-1920</text>
<text x="1122.0" y="258.1" font-size="17.1" text-anchor="end" >-1940</text>
<text x="1122.0" y="287.0" font-size="17.1" text-anchor="end" >-1960</text>
<text x="1122.0" y="315.8" font-size="17.1" text-anchor="end" >-1980</text>
<text x="1122.0" y="344.7" font-size="17.1" text-anchor="end" >-2000</text>
<text x="1126.5" y="355.0" font-size="17.1" text-anchor="middle" >0</text>
<text x="1194.7" y="355.0" font-size="17.1" text-anchor="middle" >50</text>
<text x="1262.5" y="355.0" font-size="17.1" text-anchor="middle" >100</text>
<text x="1330.3" y="355.0" font-size="17.1" text-anchor="middle" >150</text>
<text x="1344.7" y="54.8" font-size="17.1" text-anchor="start" >-210</text>
<text x="1344.7" y="95.8" font-size="17.1" text-anchor="start" >-215</text>
<text x="1344.7" y="137.0" font-size="17.1" text-anchor="start" >-220</text>
<text x="1344.7" y="178.2" font-size="17.1" text-anchor="start" >-225</text>
<text x="1344.7" y="218.8" font-size="17.1" text-anchor="start" >-230</text>
<text x="1344.7" y="259.5" font-size="17.1" text-anchor="start" >-235</text>
<text x="1344.7" y="301.7" font-size="17.1" text-anchor="start" >-240</text>
<text x="1344.7" y="339.4" font-size="17.1" text-anchor="start" >-245</text>
<text x="283.0" y="19.6" font-size="22.5" text-anchor="start" font-weight="bold">a)</text>
<text x="652.2" y="19.6" font-size="22.5" text-anchor="start" font-weight="bold">b)</text>
<text x="1003.9" y="19.6" font-size="22.5" text-anchor="start" font-weight="bold">c)</text>
<text x="1379.3" y="19.6" font-size="22.5" text-anchor="start" font-weight="bold">d)</text>
<text x="191.0" y="375.6" font-size="21.2" text-anchor="middle" >r [μm]</text>
<text x="525.8" y="375.5" font-size="21.2" text-anchor="middle" >r [μm]</text>
<text x="877.6" y="375.5" font-size="21.2" text-anchor="middle" >r [μm]</text>
<text x="1227.2" y="375.5" font-size="21.2" text-anchor="middle" >r [μm]</text>
<text transform="translate(15.3,183.5) rotate(-90)" font-size="21.2" text-anchor="middle">z [μm]</text>
<text transform="translate(370.6,193.5) rotate(-90)" font-size="21.2" text-anchor="middle">z [μm]</text>
<text transform="translate(725.1,182.4) rotate(-90)" font-size="21.2" text-anchor="middle">z [μm]</text>
<text transform="translate(1071.8,191.8) rotate(-90)" font-size="21.2" text-anchor="middle">z [μm]</text>
<text transform="translate(337.7,188.4) rotate(-90)" font-size="20.5" text-anchor="middle">density, g/cm<tspan font-size="12.5" dy="-6.5">3</tspan></text>
<text transform="translate(690,171.7) rotate(-90)" font-size="20.8" text-anchor="middle">temprtature, eV</text>
<text transform="translate(1037.5,187.6) rotate(-90)" font-size="21" text-anchor="middle">pressure, Mbar</text>
<text transform="translate(1395.3,175.3) rotate(-90)" font-size="20.7" text-anchor="middle">axial velocity, km/s</text>
</svg>
</body></html>
